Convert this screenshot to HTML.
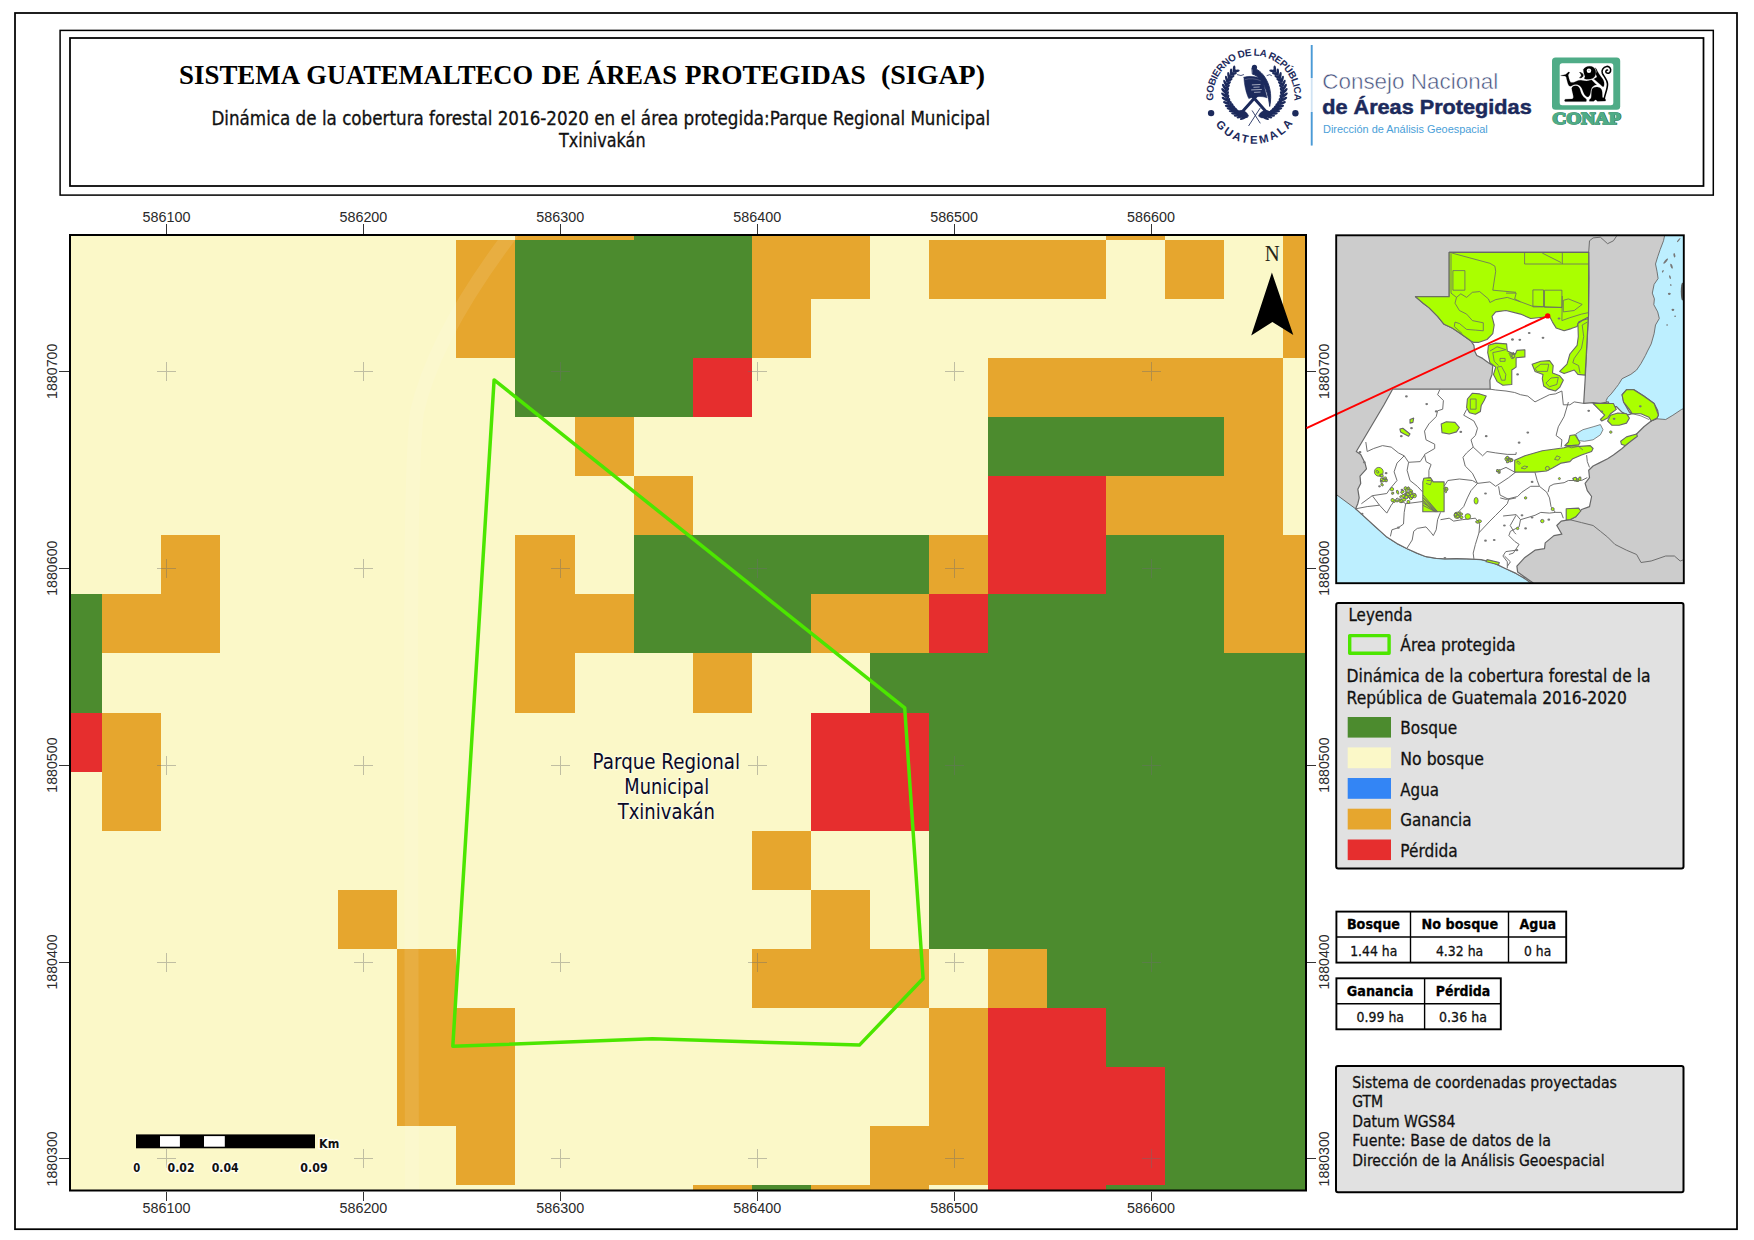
<!DOCTYPE html>
<html lang="es"><head><meta charset="utf-8"><title>SIGAP - Parque Regional Municipal Txinivakán</title>
<style>html,body{margin:0;padding:0;background:#fff}svg{display:block}</style></head>
<body>
<svg width="1754" height="1240" viewBox="0 0 1754 1240">
<rect x="0" y="0" width="1754" height="1240" fill="#fff"/>
<rect x="15" y="13" width="1722" height="1216.2" fill="none" stroke="#000" stroke-width="1.75"/>
<rect x="60.1" y="30.4" width="1653.2" height="164.7" fill="none" stroke="#000" stroke-width="1.5"/>
<rect x="70" y="38" width="1633.5" height="148" fill="none" stroke="#000" stroke-width="1.75"/>
<text y="83.5" font-family='"Liberation Serif","DejaVu Serif",serif' font-size="28" font-weight="bold" fill="#000"><tspan x="179" textLength="119.6" lengthAdjust="spacingAndGlyphs">SISTEMA</tspan> <tspan x="306.3" textLength="226.7" lengthAdjust="spacingAndGlyphs">GUATEMALTECO</tspan> <tspan x="541.8" textLength="38.4" lengthAdjust="spacingAndGlyphs">DE</tspan> <tspan x="587" textLength="90.0" lengthAdjust="spacingAndGlyphs">ÁREAS</tspan> <tspan x="684.7" textLength="181.0" lengthAdjust="spacingAndGlyphs">PROTEGIDAS</tspan> <tspan x="881" textLength="104.0" lengthAdjust="spacingAndGlyphs">(SIGAP)</tspan> </text>
<text x="211.4" y="124.6" font-family='"DejaVu Sans","Liberation Sans",sans-serif' font-size="18.67" fill="#111" text-anchor="start" font-weight="normal" stroke="#111" stroke-width="0.3" textLength="778.8" lengthAdjust="spacingAndGlyphs" >Dinámica de la cobertura forestal 2016-2020 en el área protegida:Parque Regional Municipal</text>
<text x="558.9" y="147" font-family='"DejaVu Sans","Liberation Sans",sans-serif' font-size="18.67" fill="#111" text-anchor="start" font-weight="normal" stroke="#111" stroke-width="0.3" textLength="86.7" lengthAdjust="spacingAndGlyphs" >Txinivakán</text>
<defs><clipPath id="mapclip"><rect x="70" y="235" width="1236" height="955.5"/></clipPath></defs>
<g clip-path="url(#mapclip)" shape-rendering="crispEdges">
<rect x="70" y="235" width="1236" height="956" fill="#fbf8c8"/>
<rect x="515.47" y="180.93" width="118.14" height="59.07" fill="#e6a62e"/>
<rect x="751.75" y="180.93" width="118.14" height="59.07" fill="#e6a62e"/>
<rect x="1106.17" y="180.93" width="59.07" height="59.07" fill="#e6a62e"/>
<rect x="1283.38" y="180.93" width="59.07" height="59.07" fill="#e6a62e"/>
<rect x="633.61" y="180.93" width="118.14" height="59.07" fill="#4c8b2e"/>
<rect x="456.40" y="240.00" width="59.07" height="59.07" fill="#e6a62e"/>
<rect x="751.75" y="240.00" width="118.14" height="59.07" fill="#e6a62e"/>
<rect x="928.96" y="240.00" width="177.21" height="59.07" fill="#e6a62e"/>
<rect x="1165.24" y="240.00" width="59.07" height="59.07" fill="#e6a62e"/>
<rect x="1283.38" y="240.00" width="59.07" height="59.07" fill="#e6a62e"/>
<rect x="515.47" y="240.00" width="236.28" height="59.07" fill="#4c8b2e"/>
<rect x="456.40" y="299.07" width="59.07" height="59.07" fill="#e6a62e"/>
<rect x="751.75" y="299.07" width="59.07" height="59.07" fill="#e6a62e"/>
<rect x="1283.38" y="299.07" width="59.07" height="59.07" fill="#e6a62e"/>
<rect x="515.47" y="299.07" width="236.28" height="59.07" fill="#4c8b2e"/>
<rect x="515.47" y="358.14" width="177.21" height="59.07" fill="#4c8b2e"/>
<rect x="692.68" y="358.14" width="59.07" height="59.07" fill="#e62e2e"/>
<rect x="988.03" y="358.14" width="295.35" height="59.07" fill="#e6a62e"/>
<rect x="574.54" y="417.21" width="59.07" height="59.07" fill="#e6a62e"/>
<rect x="1224.31" y="417.21" width="59.07" height="59.07" fill="#e6a62e"/>
<rect x="988.03" y="417.21" width="236.28" height="59.07" fill="#4c8b2e"/>
<rect x="633.61" y="476.28" width="59.07" height="59.07" fill="#e6a62e"/>
<rect x="1106.17" y="476.28" width="177.21" height="59.07" fill="#e6a62e"/>
<rect x="988.03" y="476.28" width="118.14" height="59.07" fill="#e62e2e"/>
<rect x="161.05" y="535.35" width="59.07" height="59.07" fill="#e6a62e"/>
<rect x="515.47" y="535.35" width="59.07" height="59.07" fill="#e6a62e"/>
<rect x="928.96" y="535.35" width="59.07" height="59.07" fill="#e6a62e"/>
<rect x="1224.31" y="535.35" width="118.14" height="59.07" fill="#e6a62e"/>
<rect x="633.61" y="535.35" width="295.35" height="59.07" fill="#4c8b2e"/>
<rect x="1106.17" y="535.35" width="118.14" height="59.07" fill="#4c8b2e"/>
<rect x="988.03" y="535.35" width="118.14" height="59.07" fill="#e62e2e"/>
<rect x="42.91" y="594.42" width="59.07" height="59.07" fill="#4c8b2e"/>
<rect x="633.61" y="594.42" width="177.21" height="59.07" fill="#4c8b2e"/>
<rect x="988.03" y="594.42" width="236.28" height="59.07" fill="#4c8b2e"/>
<rect x="101.98" y="594.42" width="118.14" height="59.07" fill="#e6a62e"/>
<rect x="515.47" y="594.42" width="118.14" height="59.07" fill="#e6a62e"/>
<rect x="810.82" y="594.42" width="118.14" height="59.07" fill="#e6a62e"/>
<rect x="1224.31" y="594.42" width="118.14" height="59.07" fill="#e6a62e"/>
<rect x="928.96" y="594.42" width="59.07" height="59.07" fill="#e62e2e"/>
<rect x="42.91" y="653.49" width="59.07" height="59.07" fill="#4c8b2e"/>
<rect x="869.89" y="653.49" width="472.56" height="59.07" fill="#4c8b2e"/>
<rect x="515.47" y="653.49" width="59.07" height="59.07" fill="#e6a62e"/>
<rect x="692.68" y="653.49" width="59.07" height="59.07" fill="#e6a62e"/>
<rect x="42.91" y="712.56" width="59.07" height="59.07" fill="#e62e2e"/>
<rect x="810.82" y="712.56" width="118.14" height="59.07" fill="#e62e2e"/>
<rect x="101.98" y="712.56" width="59.07" height="59.07" fill="#e6a62e"/>
<rect x="928.96" y="712.56" width="413.49" height="59.07" fill="#4c8b2e"/>
<rect x="101.98" y="771.63" width="59.07" height="59.07" fill="#e6a62e"/>
<rect x="810.82" y="771.63" width="118.14" height="59.07" fill="#e62e2e"/>
<rect x="928.96" y="771.63" width="413.49" height="59.07" fill="#4c8b2e"/>
<rect x="751.75" y="830.70" width="59.07" height="59.07" fill="#e6a62e"/>
<rect x="928.96" y="830.70" width="413.49" height="59.07" fill="#4c8b2e"/>
<rect x="338.26" y="889.77" width="59.07" height="59.07" fill="#e6a62e"/>
<rect x="810.82" y="889.77" width="59.07" height="59.07" fill="#e6a62e"/>
<rect x="928.96" y="889.77" width="413.49" height="59.07" fill="#4c8b2e"/>
<rect x="397.33" y="948.84" width="59.07" height="59.07" fill="#e6a62e"/>
<rect x="751.75" y="948.84" width="177.21" height="59.07" fill="#e6a62e"/>
<rect x="988.03" y="948.84" width="59.07" height="59.07" fill="#e6a62e"/>
<rect x="1047.10" y="948.84" width="295.35" height="59.07" fill="#4c8b2e"/>
<rect x="397.33" y="1007.91" width="118.14" height="59.07" fill="#e6a62e"/>
<rect x="928.96" y="1007.91" width="59.07" height="59.07" fill="#e6a62e"/>
<rect x="988.03" y="1007.91" width="118.14" height="59.07" fill="#e62e2e"/>
<rect x="1106.17" y="1007.91" width="236.28" height="59.07" fill="#4c8b2e"/>
<rect x="397.33" y="1066.98" width="118.14" height="59.07" fill="#e6a62e"/>
<rect x="928.96" y="1066.98" width="59.07" height="59.07" fill="#e6a62e"/>
<rect x="988.03" y="1066.98" width="177.21" height="59.07" fill="#e62e2e"/>
<rect x="1165.24" y="1066.98" width="177.21" height="59.07" fill="#4c8b2e"/>
<rect x="456.40" y="1126.05" width="59.07" height="59.07" fill="#e6a62e"/>
<rect x="869.89" y="1126.05" width="118.14" height="59.07" fill="#e6a62e"/>
<rect x="988.03" y="1126.05" width="177.21" height="59.07" fill="#e62e2e"/>
<rect x="1165.24" y="1126.05" width="177.21" height="59.07" fill="#4c8b2e"/>
<rect x="692.68" y="1185.12" width="59.07" height="59.07" fill="#e6a62e"/>
<rect x="810.82" y="1185.12" width="118.14" height="59.07" fill="#e6a62e"/>
<rect x="751.75" y="1185.12" width="59.07" height="59.07" fill="#4c8b2e"/>
<rect x="1106.17" y="1185.12" width="236.28" height="59.07" fill="#4c8b2e"/>
<rect x="988.03" y="1185.12" width="118.14" height="59.07" fill="#e62e2e"/>
</g>
<g clip-path="url(#mapclip)"><path d="M514,230 C472,285 431,350 417,412 C411,460 411,600 411,720 L412,1195" fill="none" stroke="#ffffff" stroke-opacity="0.095" stroke-width="14"/></g>
<g stroke="#6e6e6e" stroke-opacity="0.42" stroke-width="1" shape-rendering="crispEdges">
<path d="M157.0,371.3H176.0M166.5,361.8V380.8"/>
<path d="M157.0,568.2H176.0M166.5,558.7V577.7"/>
<path d="M157.0,765.1H176.0M166.5,755.6V774.6"/>
<path d="M157.0,962.0H176.0M166.5,952.5V971.5"/>
<path d="M157.0,1158.9H176.0M166.5,1149.4V1168.4"/>
<path d="M353.9,371.3H372.9M363.4,361.8V380.8"/>
<path d="M353.9,568.2H372.9M363.4,558.7V577.7"/>
<path d="M353.9,765.1H372.9M363.4,755.6V774.6"/>
<path d="M353.9,962.0H372.9M363.4,952.5V971.5"/>
<path d="M353.9,1158.9H372.9M363.4,1149.4V1168.4"/>
<path d="M550.8,371.3H569.8M560.3,361.8V380.8"/>
<path d="M550.8,568.2H569.8M560.3,558.7V577.7"/>
<path d="M550.8,765.1H569.8M560.3,755.6V774.6"/>
<path d="M550.8,962.0H569.8M560.3,952.5V971.5"/>
<path d="M550.8,1158.9H569.8M560.3,1149.4V1168.4"/>
<path d="M747.7,371.3H766.7M757.2,361.8V380.8"/>
<path d="M747.7,568.2H766.7M757.2,558.7V577.7"/>
<path d="M747.7,765.1H766.7M757.2,755.6V774.6"/>
<path d="M747.7,962.0H766.7M757.2,952.5V971.5"/>
<path d="M747.7,1158.9H766.7M757.2,1149.4V1168.4"/>
<path d="M944.6,371.3H963.6M954.1,361.8V380.8"/>
<path d="M944.6,568.2H963.6M954.1,558.7V577.7"/>
<path d="M944.6,765.1H963.6M954.1,755.6V774.6"/>
<path d="M944.6,962.0H963.6M954.1,952.5V971.5"/>
<path d="M944.6,1158.9H963.6M954.1,1149.4V1168.4"/>
<path d="M1141.5,371.3H1160.5M1151.0,361.8V380.8"/>
<path d="M1141.5,568.2H1160.5M1151.0,558.7V577.7"/>
<path d="M1141.5,765.1H1160.5M1151.0,755.6V774.6"/>
<path d="M1141.5,962.0H1160.5M1151.0,952.5V971.5"/>
<path d="M1141.5,1158.9H1160.5M1151.0,1149.4V1168.4"/>
</g>
<polygon points="494.1,379.9 904.7,707.9 923.1,978.5 859.4,1045.1 652.3,1038.8 452.8,1046.3" fill="none" stroke="#4ce600" stroke-width="3.5" stroke-linejoin="round"/>
<text x="592.6" y="768.5" font-family='"DejaVu Sans","Liberation Sans",sans-serif' font-size="21" fill="#0a0a28" text-anchor="start" font-weight="normal" textLength="147.5" lengthAdjust="spacingAndGlyphs" stroke="#fdfce6" stroke-width="2.6" stroke-linejoin="round" paint-order="stroke" stroke-opacity="0.9">Parque Regional</text>
<text x="624.3" y="793.6" font-family='"DejaVu Sans","Liberation Sans",sans-serif' font-size="21" fill="#0a0a28" text-anchor="start" font-weight="normal" textLength="84.8" lengthAdjust="spacingAndGlyphs" stroke="#fdfce6" stroke-width="2.6" stroke-linejoin="round" paint-order="stroke" stroke-opacity="0.9">Municipal</text>
<text x="617.7" y="818.7" font-family='"DejaVu Sans","Liberation Sans",sans-serif' font-size="21" fill="#0a0a28" text-anchor="start" font-weight="normal" textLength="97.3" lengthAdjust="spacingAndGlyphs" stroke="#fdfce6" stroke-width="2.6" stroke-linejoin="round" paint-order="stroke" stroke-opacity="0.9">Txinivakán</text>
<text x="1264.7" y="260.6" font-family='"Liberation Serif","DejaVu Serif",serif' font-size="23.4" fill="#262618" text-anchor="start" font-weight="normal" textLength="15" lengthAdjust="spacingAndGlyphs" >N</text>
<polygon points="1271.9,272.5 1293.3,335 1272.4,322 1251.2,335.4" fill="#000"/>
<rect x="136" y="1134.4" width="179" height="13.9" fill="#000"/>
<rect x="160" y="1136.1" width="19.9" height="10.6" fill="#fff"/>
<rect x="204" y="1136.1" width="20.8" height="10.6" fill="#fff"/>
<text x="136.8" y="1172" font-family='"DejaVu Sans","Liberation Sans",sans-serif' font-size="11.8" fill="#111" text-anchor="middle" font-weight="bold" textLength="7" lengthAdjust="spacingAndGlyphs" stroke="#fffef0" stroke-width="3.2" stroke-linejoin="round" paint-order="stroke">0</text>
<text x="181.1" y="1172" font-family='"DejaVu Sans","Liberation Sans",sans-serif' font-size="11.8" fill="#111" text-anchor="middle" font-weight="bold" textLength="27" lengthAdjust="spacingAndGlyphs" stroke="#fffef0" stroke-width="3.2" stroke-linejoin="round" paint-order="stroke">0.02</text>
<text x="225.2" y="1172" font-family='"DejaVu Sans","Liberation Sans",sans-serif' font-size="11.8" fill="#111" text-anchor="middle" font-weight="bold" textLength="27.1" lengthAdjust="spacingAndGlyphs" stroke="#fffef0" stroke-width="3.2" stroke-linejoin="round" paint-order="stroke">0.04</text>
<text x="314" y="1172" font-family='"DejaVu Sans","Liberation Sans",sans-serif' font-size="11.8" fill="#111" text-anchor="middle" font-weight="bold" textLength="27.3" lengthAdjust="spacingAndGlyphs" stroke="#fffef0" stroke-width="3.2" stroke-linejoin="round" paint-order="stroke">0.09</text>
<text x="319.1" y="1147.8" font-family='"DejaVu Sans","Liberation Sans",sans-serif' font-size="11.8" fill="#111" text-anchor="start" font-weight="bold" textLength="20.2" lengthAdjust="spacingAndGlyphs" stroke="#fffef0" stroke-width="3.2" stroke-linejoin="round" paint-order="stroke">Km</text>
<rect x="70" y="235" width="1236" height="955.5" fill="none" stroke="#000" stroke-width="2"/>
<g stroke="#333" stroke-width="1" shape-rendering="crispEdges">
<path d="M166.5,224.3V234M166.5,1191.5V1200.5"/>
<path d="M363.4,224.3V234M363.4,1191.5V1200.5"/>
<path d="M560.3,224.3V234M560.3,1191.5V1200.5"/>
<path d="M757.2,224.3V234M757.2,1191.5V1200.5"/>
<path d="M954.1,224.3V234M954.1,1191.5V1200.5"/>
<path d="M1151.0,224.3V234M1151.0,1191.5V1200.5"/>
<path d="M59,371.3H69M1307,371.3H1316.3"/>
<path d="M59,568.2H69M1307,568.2H1316.3"/>
<path d="M59,765.1H69M1307,765.1H1316.3"/>
<path d="M59,962.0H69M1307,962.0H1316.3"/>
<path d="M59,1158.9H69M1307,1158.9H1316.3"/>
</g>
<text x="166.5" y="221.7" font-family='"Liberation Sans","DejaVu Sans",sans-serif' font-size="14.35" fill="#2a2a2a" text-anchor="middle" font-weight="normal" >586100</text>
<text x="166.5" y="1213.4" font-family='"Liberation Sans","DejaVu Sans",sans-serif' font-size="14.35" fill="#2a2a2a" text-anchor="middle" font-weight="normal" >586100</text>
<text x="363.4" y="221.7" font-family='"Liberation Sans","DejaVu Sans",sans-serif' font-size="14.35" fill="#2a2a2a" text-anchor="middle" font-weight="normal" >586200</text>
<text x="363.4" y="1213.4" font-family='"Liberation Sans","DejaVu Sans",sans-serif' font-size="14.35" fill="#2a2a2a" text-anchor="middle" font-weight="normal" >586200</text>
<text x="560.3" y="221.7" font-family='"Liberation Sans","DejaVu Sans",sans-serif' font-size="14.35" fill="#2a2a2a" text-anchor="middle" font-weight="normal" >586300</text>
<text x="560.3" y="1213.4" font-family='"Liberation Sans","DejaVu Sans",sans-serif' font-size="14.35" fill="#2a2a2a" text-anchor="middle" font-weight="normal" >586300</text>
<text x="757.2" y="221.7" font-family='"Liberation Sans","DejaVu Sans",sans-serif' font-size="14.35" fill="#2a2a2a" text-anchor="middle" font-weight="normal" >586400</text>
<text x="757.2" y="1213.4" font-family='"Liberation Sans","DejaVu Sans",sans-serif' font-size="14.35" fill="#2a2a2a" text-anchor="middle" font-weight="normal" >586400</text>
<text x="954.1" y="221.7" font-family='"Liberation Sans","DejaVu Sans",sans-serif' font-size="14.35" fill="#2a2a2a" text-anchor="middle" font-weight="normal" >586500</text>
<text x="954.1" y="1213.4" font-family='"Liberation Sans","DejaVu Sans",sans-serif' font-size="14.35" fill="#2a2a2a" text-anchor="middle" font-weight="normal" >586500</text>
<text x="1151.0" y="221.7" font-family='"Liberation Sans","DejaVu Sans",sans-serif' font-size="14.35" fill="#2a2a2a" text-anchor="middle" font-weight="normal" >586600</text>
<text x="1151.0" y="1213.4" font-family='"Liberation Sans","DejaVu Sans",sans-serif' font-size="14.35" fill="#2a2a2a" text-anchor="middle" font-weight="normal" >586600</text>
<text transform="translate(57.3,371.3) rotate(-90)" font-family='"Liberation Sans","DejaVu Sans",sans-serif' font-size="14.2" fill="#2a2a2a" text-anchor="middle">1880700</text>
<text transform="translate(1329.3,371.3) rotate(-90)" font-family='"Liberation Sans","DejaVu Sans",sans-serif' font-size="14.2" fill="#2a2a2a" text-anchor="middle">1880700</text>
<text transform="translate(57.3,568.2) rotate(-90)" font-family='"Liberation Sans","DejaVu Sans",sans-serif' font-size="14.2" fill="#2a2a2a" text-anchor="middle">1880600</text>
<text transform="translate(1329.3,568.2) rotate(-90)" font-family='"Liberation Sans","DejaVu Sans",sans-serif' font-size="14.2" fill="#2a2a2a" text-anchor="middle">1880600</text>
<text transform="translate(57.3,765.1) rotate(-90)" font-family='"Liberation Sans","DejaVu Sans",sans-serif' font-size="14.2" fill="#2a2a2a" text-anchor="middle">1880500</text>
<text transform="translate(1329.3,765.1) rotate(-90)" font-family='"Liberation Sans","DejaVu Sans",sans-serif' font-size="14.2" fill="#2a2a2a" text-anchor="middle">1880500</text>
<text transform="translate(57.3,962.0) rotate(-90)" font-family='"Liberation Sans","DejaVu Sans",sans-serif' font-size="14.2" fill="#2a2a2a" text-anchor="middle">1880400</text>
<text transform="translate(1329.3,962.0) rotate(-90)" font-family='"Liberation Sans","DejaVu Sans",sans-serif' font-size="14.2" fill="#2a2a2a" text-anchor="middle">1880400</text>
<text transform="translate(57.3,1158.9) rotate(-90)" font-family='"Liberation Sans","DejaVu Sans",sans-serif' font-size="14.2" fill="#2a2a2a" text-anchor="middle">1880300</text>
<text transform="translate(1329.3,1158.9) rotate(-90)" font-family='"Liberation Sans","DejaVu Sans",sans-serif' font-size="14.2" fill="#2a2a2a" text-anchor="middle">1880300</text>
<rect x="1336.2" y="603" width="347.3" height="265.6" rx="2" fill="#e1e1e1" stroke="#000" stroke-width="2"/>
<text x="1348.5" y="620.5" font-family='"DejaVu Sans","Liberation Sans",sans-serif' font-size="17.1" fill="#111" text-anchor="start" font-weight="normal" stroke="#111" stroke-width="0.3" textLength="63.9" lengthAdjust="spacingAndGlyphs" >Leyenda</text>
<rect x="1349.7" y="635.6" width="39.4" height="17.6" fill="none" stroke="#4ce600" stroke-width="3.4" stroke-linejoin="round"/>
<text x="1400.3" y="651.4" font-family='"DejaVu Sans","Liberation Sans",sans-serif' font-size="17.1" fill="#111" text-anchor="start" font-weight="normal" stroke="#111" stroke-width="0.3" textLength="115.3" lengthAdjust="spacingAndGlyphs" >Área protegida</text>
<text x="1346.6" y="682" font-family='"DejaVu Sans","Liberation Sans",sans-serif' font-size="17.1" fill="#111" text-anchor="start" font-weight="normal" stroke="#111" stroke-width="0.3" textLength="304" lengthAdjust="spacingAndGlyphs" >Dinámica de la cobertura forestal de la</text>
<text x="1346.6" y="703.8" font-family='"DejaVu Sans","Liberation Sans",sans-serif' font-size="17.1" fill="#111" text-anchor="start" font-weight="normal" stroke="#111" stroke-width="0.3" textLength="280.2" lengthAdjust="spacingAndGlyphs" >República de Guatemala 2016-2020</text>
<rect x="1347.7" y="717" width="43.3" height="20.6" fill="#4c8b2e"/>
<text x="1400.3" y="733.9" font-family='"DejaVu Sans","Liberation Sans",sans-serif' font-size="17.1" fill="#111" text-anchor="start" font-weight="normal" stroke="#111" stroke-width="0.3" textLength="56.8" lengthAdjust="spacingAndGlyphs" >Bosque</text>
<rect x="1347.7" y="747.4" width="43.3" height="20.8" fill="#fbf8c8"/>
<text x="1400.3" y="765" font-family='"DejaVu Sans","Liberation Sans",sans-serif' font-size="17.1" fill="#111" text-anchor="start" font-weight="normal" stroke="#111" stroke-width="0.3" textLength="83.7" lengthAdjust="spacingAndGlyphs" >No bosque</text>
<rect x="1347.7" y="778" width="43.3" height="20.8" fill="#3385f5"/>
<text x="1400.3" y="795.9" font-family='"DejaVu Sans","Liberation Sans",sans-serif' font-size="17.1" fill="#111" text-anchor="start" font-weight="normal" stroke="#111" stroke-width="0.3" textLength="38.6" lengthAdjust="spacingAndGlyphs" >Agua</text>
<rect x="1347.7" y="808.7" width="43.3" height="20.8" fill="#e6a62e"/>
<text x="1400.3" y="826.4" font-family='"DejaVu Sans","Liberation Sans",sans-serif' font-size="17.1" fill="#111" text-anchor="start" font-weight="normal" stroke="#111" stroke-width="0.3" textLength="71.3" lengthAdjust="spacingAndGlyphs" >Ganancia</text>
<rect x="1347.7" y="839.5" width="43.3" height="20.6" fill="#e62e2e"/>
<text x="1400.3" y="856.8" font-family='"DejaVu Sans","Liberation Sans",sans-serif' font-size="17.1" fill="#111" text-anchor="start" font-weight="normal" stroke="#111" stroke-width="0.3" textLength="57.5" lengthAdjust="spacingAndGlyphs" >Pérdida</text>
<rect x="1336.4" y="911.6" width="229.8" height="51.0" fill="#fff" stroke="#000" stroke-width="1.9"/>
<path d="M1410.5,911.6V962.6" stroke="#000" stroke-width="1.4"/>
<path d="M1508.5,911.6V962.6" stroke="#000" stroke-width="1.4"/>
<path d="M1336.4,937H1566.2" stroke="#000" stroke-width="1.6"/>
<rect x="1336.4" y="978.3" width="164.4" height="51.0" fill="#fff" stroke="#000" stroke-width="1.9"/>
<path d="M1424.6,978.3V1029.3" stroke="#000" stroke-width="1.4"/>
<path d="M1336.4,1003.7H1500.8" stroke="#000" stroke-width="1.6"/>
<text x="1346.9" y="929.4" font-family='"DejaVu Sans","Liberation Sans",sans-serif' font-size="13.5" fill="#000" text-anchor="start" font-weight="bold" stroke="#000" stroke-width="0.3" textLength="53" lengthAdjust="spacingAndGlyphs" >Bosque</text>
<text x="1421.6" y="929.4" font-family='"DejaVu Sans","Liberation Sans",sans-serif' font-size="13.5" fill="#000" text-anchor="start" font-weight="bold" stroke="#000" stroke-width="0.3" textLength="76.5" lengthAdjust="spacingAndGlyphs" >No bosque</text>
<text x="1519.5" y="929.4" font-family='"DejaVu Sans","Liberation Sans",sans-serif' font-size="13.5" fill="#000" text-anchor="start" font-weight="bold" stroke="#000" stroke-width="0.3" textLength="36.5" lengthAdjust="spacingAndGlyphs" >Agua</text>
<text x="1350.2" y="955.5" font-family='"DejaVu Sans","Liberation Sans",sans-serif' font-size="13.5" fill="#111" text-anchor="start" font-weight="normal" stroke="#111" stroke-width="0.3" textLength="47.1" lengthAdjust="spacingAndGlyphs" >1.44 ha</text>
<text x="1435.9" y="955.5" font-family='"DejaVu Sans","Liberation Sans",sans-serif' font-size="13.5" fill="#111" text-anchor="start" font-weight="normal" stroke="#111" stroke-width="0.3" textLength="47.4" lengthAdjust="spacingAndGlyphs" >4.32 ha</text>
<text x="1524.1" y="955.5" font-family='"DejaVu Sans","Liberation Sans",sans-serif' font-size="13.5" fill="#111" text-anchor="start" font-weight="normal" stroke="#111" stroke-width="0.3" textLength="27.1" lengthAdjust="spacingAndGlyphs" >0 ha</text>
<text x="1346.8" y="996.2" font-family='"DejaVu Sans","Liberation Sans",sans-serif' font-size="13.5" fill="#000" text-anchor="start" font-weight="bold" stroke="#000" stroke-width="0.3" textLength="66.7" lengthAdjust="spacingAndGlyphs" >Ganancia</text>
<text x="1435.7" y="996.2" font-family='"DejaVu Sans","Liberation Sans",sans-serif' font-size="13.5" fill="#000" text-anchor="start" font-weight="bold" stroke="#000" stroke-width="0.3" textLength="54.6" lengthAdjust="spacingAndGlyphs" >Pérdida</text>
<text x="1356.6" y="1022.2" font-family='"DejaVu Sans","Liberation Sans",sans-serif' font-size="13.5" fill="#111" text-anchor="start" font-weight="normal" stroke="#111" stroke-width="0.3" textLength="47.4" lengthAdjust="spacingAndGlyphs" >0.99 ha</text>
<text x="1439.1" y="1022.2" font-family='"DejaVu Sans","Liberation Sans",sans-serif' font-size="13.5" fill="#111" text-anchor="start" font-weight="normal" stroke="#111" stroke-width="0.3" textLength="47.8" lengthAdjust="spacingAndGlyphs" >0.36 ha</text>
<rect x="1336" y="1066" width="347.5" height="126.3" rx="2" fill="#e1e1e1" stroke="#000" stroke-width="2"/>
<text x="1352.2" y="1087.9" font-family='"DejaVu Sans","Liberation Sans",sans-serif' font-size="15.05" fill="#111" text-anchor="start" font-weight="normal" stroke="#111" stroke-width="0.3" textLength="264.7" lengthAdjust="spacingAndGlyphs" >Sistema de coordenadas proyectadas</text>
<text x="1352.2" y="1107" font-family='"DejaVu Sans","Liberation Sans",sans-serif' font-size="15.05" fill="#111" text-anchor="start" font-weight="normal" stroke="#111" stroke-width="0.3" textLength="31" lengthAdjust="spacingAndGlyphs" >GTM</text>
<text x="1352.2" y="1126.5" font-family='"DejaVu Sans","Liberation Sans",sans-serif' font-size="15.05" fill="#111" text-anchor="start" font-weight="normal" stroke="#111" stroke-width="0.3" textLength="103.1" lengthAdjust="spacingAndGlyphs" >Datum WGS84</text>
<text x="1352.2" y="1145.8" font-family='"DejaVu Sans","Liberation Sans",sans-serif' font-size="15.05" fill="#111" text-anchor="start" font-weight="normal" stroke="#111" stroke-width="0.3" textLength="198.9" lengthAdjust="spacingAndGlyphs" >Fuente: Base de datos de la</text>
<text x="1352.2" y="1165.5" font-family='"DejaVu Sans","Liberation Sans",sans-serif' font-size="15.05" fill="#111" text-anchor="start" font-weight="normal" stroke="#111" stroke-width="0.3" textLength="252.4" lengthAdjust="spacingAndGlyphs" >Dirección de la Análisis Geoespacial</text>
<defs><clipPath id="insclip"><rect x="1336.2" y="235.3" width="347.6" height="347.9"/></clipPath></defs>
<g clip-path="url(#insclip)" stroke-linejoin="round">
<rect x="1336" y="235" width="348" height="349" fill="#cccccc"/>
<path d="M1335.3,493.8 L1355.6,508.8 L1362.1,514.6 L1372.3,524.0 L1386.8,537.1 L1397.0,543.6 L1407.1,548.7 L1417.3,553.4 L1426.0,556.7 L1436.2,558.3 L1444.9,558.9 L1456.5,558.6 L1466.6,558.9 L1481.2,559.6 L1489.9,561.8 L1495.7,563.9 L1505.8,568.7 L1516.0,573.4 L1523.4,577.7 L1532.9,582.8 L1533.6,585.0 L1335.3,585.0Z" fill="#bdefff" stroke="#686868" stroke-width="1"/>
<path d="M1664.9,234.3 L1663.5,240.8 L1660.2,249.5 L1657.7,256.8 L1655.5,264.0 L1657.0,271.3 L1658.1,278.5 L1654.1,284.4 L1652.3,293.1 L1654.4,298.9 L1653.8,304.7 L1657.7,311.9 L1659.3,318.5 L1655.5,325.0 L1654.1,333.7 L1651.2,343.9 L1647.5,351.1 L1645.4,355.5 L1641.0,363.5 L1636.6,370.0 L1630.8,374.4 L1622.1,378.7 L1618.5,384.5 L1616.3,387.4 L1611.2,393.9 L1607.6,397.6 L1606.2,400.5 L1608.3,404.8 L1612.0,407.9 L1616.3,406.5 L1622.1,412.3 L1629.4,415.2 L1651.2,421.0 L1657.0,418.8 L1665.7,419.5 L1672.9,415.2 L1681.6,409.4 L1686.0,407.9 L1686.0,234.3Z" fill="#bdefff" stroke="#686868" stroke-width="0.9"/>
<path d="M1449.2,252.4 L1588.7,252.4 L1589.0,278.5 L1588.5,314.8 L1586.6,351.1 L1585.1,380.2 L1583.7,403.4 L1593.1,402.7 L1600.4,403.4 L1608.3,401.9 L1610.5,407.7 L1616.3,406.5 L1622.1,412.3 L1627.2,415.2 L1632.3,413.7 L1629.4,412.1 L1623.6,401.9 L1622.1,394.7 L1626.5,389.6 L1633.7,389.6 L1643.9,396.1 L1654.1,403.4 L1657.7,410.6 L1658.4,415.0 L1657.0,418.1 L1651.2,421.0 L1643.9,426.8 L1636.6,434.0 L1629.4,442.0 L1622.1,448.5 L1613.4,455.1 L1607.6,458.7 L1598.9,463.1 L1593.1,466.0 L1588.7,470.3 L1589.5,477.6 L1585.1,483.4 L1587.3,490.6 L1591.6,496.5 L1589.5,506.6 L1581.5,509.5 L1575.7,516.8 L1569.9,519.7 L1561.2,521.1 L1556.8,525.5 L1561.9,534.2 L1553.9,535.6 L1545.2,542.9 L1544.5,548.7 L1535.0,550.2 L1524.9,557.4 L1516.9,566.1 L1517.6,571.9 L1527.8,579.2 L1532.9,582.8 L1533.6,585.0 L1523.4,577.7 L1516.0,573.4 L1505.8,568.7 L1495.7,563.9 L1489.9,561.8 L1481.2,559.6 L1466.6,558.9 L1456.5,558.6 L1444.9,558.9 L1436.2,558.3 L1426.0,556.7 L1417.3,553.4 L1407.1,548.7 L1397.0,543.6 L1386.8,537.1 L1372.3,524.0 L1362.1,514.6 L1355.6,508.8 L1357.8,503.7 L1359.2,497.9 L1357.8,489.2 L1360.7,483.4 L1360.0,476.1 L1366.5,468.9 L1365.0,463.1 L1360.7,454.4 L1356.3,451.5 L1383.9,405.0 L1392.6,389.2 L1490.2,389.2 L1489.9,380.2 L1492.0,374.4 L1492.8,365.6 L1488.4,362.7 L1482.6,358.4 L1476.8,355.5 L1474.6,351.1 L1473.9,345.3 L1471.0,341.0 L1460.8,333.7 L1452.1,327.9 L1444.1,324.3 L1437.6,316.3 L1428.9,307.6 L1423.1,303.2 L1415.5,296.7 L1449.2,296.7Z" fill="#ffffff" stroke="#686868" stroke-width="1.2"/>
<path d="M1575.7,434.0 L1582.9,429.7 L1593.1,426.8 L1600.4,424.6 L1603.0,429.7 L1600.4,434.8 L1593.1,439.8 L1584.4,441.3 L1578.6,440.6Z" fill="#bdefff" stroke="#686868" stroke-width="0.8"/>
<path d="M1490.2,389.2 L1495.7,390.0 L1506.0,391.0 L1506.0,391.0 L1514.7,392.5 L1520.5,394.7 L1527.8,396.1 L1535.0,401.9 L1540.8,399.0 L1549.5,394.7 L1555.4,393.9 L1561.9,391.0 L1563.3,404.8 L1569.9,404.8 L1574.2,401.9 L1583.7,403.4" fill="none" stroke="#686868" stroke-width="0.95"/>
<path d="M1439.8,389.6 L1437.6,394.7 L1443.4,400.5 L1442.7,409.2 L1437.6,410.8 L1436.2,416.6 L1428.9,423.9 L1424.5,431.1 L1426.0,439.8 L1434.7,444.2 L1434.7,448.5 L1424.5,454.4 L1426.0,461.6 L1431.1,464.5 L1428.9,470.3 L1428.9,478.3" fill="none" stroke="#686868" stroke-width="0.95"/>
<path d="M1466.6,409.4 L1463.7,415.2 L1473.9,421.0 L1477.5,428.2 L1475.4,435.5 L1471.0,439.8 L1473.2,447.1 L1466.6,452.9 L1463.0,457.3 L1465.2,466.0 L1472.4,473.2 L1477.5,483.4" fill="none" stroke="#686868" stroke-width="0.95"/>
<path d="M1473.2,447.1 L1482.6,455.8 L1487.0,451.5 L1495.7,452.9 L1507.3,454.4 L1516.0,454.4 L1516.2,452.2" fill="none" stroke="#686868" stroke-width="0.95"/>
<path d="M1365.8,442.0 L1367.2,451.5 L1373.7,448.5 L1382.5,445.6 L1391.2,447.1 L1398.4,452.9 L1404.2,455.8 L1408.6,462.3 L1420.2,461.6 L1424.5,455.1" fill="none" stroke="#686868" stroke-width="0.95"/>
<path d="M1404.2,455.8 L1397.0,463.1 L1394.1,471.8 L1397.0,480.5 L1389.7,489.2 L1386.8,493.5 L1372.3,495.7 L1361.4,503.7" fill="none" stroke="#686868" stroke-width="0.95"/>
<path d="M1408.6,462.3 L1407.1,470.3 L1410.0,480.5 L1417.3,486.3 L1422.8,492.1" fill="none" stroke="#686868" stroke-width="0.95"/>
<path d="M1372.3,495.7 L1379.5,505.2 L1386.8,513.1 L1391.2,505.2 L1397.0,497.9 L1405.7,503.7 L1404.2,512.4 L1403.5,524.0 L1398.4,527.7 L1391.9,529.8 L1390.4,536.4" fill="none" stroke="#686868" stroke-width="0.95"/>
<path d="M1355.6,508.8 L1367.2,506.6 L1379.5,505.2" fill="none" stroke="#686868" stroke-width="0.95"/>
<path d="M1422.8,501.5 L1405.7,503.7" fill="none" stroke="#686868" stroke-width="0.95"/>
<path d="M1444.1,486.3 L1447.8,480.5 L1459.4,479.0 L1472.4,480.5 L1477.5,483.4 L1489.9,481.9 L1495.7,486.3 L1500.0,483.4 L1508.7,477.6 L1516.0,471.8" fill="none" stroke="#686868" stroke-width="0.95"/>
<path d="M1477.5,483.4 L1471.0,490.6 L1467.4,497.9 L1463.7,506.6 L1457.9,512.4" fill="none" stroke="#686868" stroke-width="0.95"/>
<path d="M1440.5,512.4 L1437.6,519.7 L1436.2,529.8 L1433.3,535.6 L1431.1,532.7 L1426.0,526.9 L1417.3,528.4 L1413.7,531.3 L1412.2,540.0 L1407.1,548.0" fill="none" stroke="#686868" stroke-width="0.95"/>
<path d="M1440.5,519.7 L1449.2,518.2 L1453.6,521.1 L1462.3,519.7 L1475.4,518.2 L1479.7,524.0 L1479.0,532.7 L1475.4,544.4 L1473.2,553.1 L1473.9,558.9" fill="none" stroke="#686868" stroke-width="0.95"/>
<path d="M1479.0,532.7 L1489.9,521.1 L1495.7,515.3 L1507.3,503.7 L1508.7,499.4 L1516.0,497.9" fill="none" stroke="#686868" stroke-width="0.95"/>
<path d="M1498.6,486.3 L1500.0,495.0 L1508.7,499.4" fill="none" stroke="#686868" stroke-width="0.95"/>
<path d="M1516.0,515.3 L1510.2,525.5 L1514.5,532.7 L1516.0,534.2" fill="none" stroke="#686868" stroke-width="0.95"/>
<path d="M1516.0,550.2 L1505.8,551.6 L1502.9,556.0 L1507.3,561.8 L1507.3,568.3" fill="none" stroke="#686868" stroke-width="0.95"/>
<path d="M1568.4,402.1 L1564.1,416.6 L1558.3,426.8 L1556.1,435.5 L1561.9,439.8 L1561.2,447.1" fill="none" stroke="#686868" stroke-width="0.95"/>
<path d="M1535.0,472.5 L1537.2,480.5 L1539.4,486.3 L1546.6,492.1 L1549.5,497.9 L1551.0,506.6 L1555.4,512.4 L1561.2,512.4 L1563.3,518.2" fill="none" stroke="#686868" stroke-width="0.95"/>
<path d="M1539.4,486.3 L1530.7,486.3 L1522.0,492.1 L1517.6,496.5 L1506.0,499.4 L1500.2,497.9" fill="none" stroke="#686868" stroke-width="0.95"/>
<path d="M1548.1,492.1 L1549.5,486.3 L1553.9,484.1 L1564.1,482.7 L1568.4,480.5 L1581.5,480.5 L1587.3,477.6" fill="none" stroke="#686868" stroke-width="0.95"/>
<path d="M1586.6,455.1 L1587.3,461.6 L1589.5,467.4" fill="none" stroke="#686868" stroke-width="0.95"/>
<path d="M1503.1,516.0 L1516.2,514.6 L1520.5,519.7 L1535.0,515.3 L1540.8,512.4 L1549.5,513.1 L1555.4,512.4" fill="none" stroke="#686868" stroke-width="0.95"/>
<path d="M1520.5,519.7 L1519.1,526.9 L1510.4,531.3 L1508.9,535.6 L1514.7,541.4 L1519.1,544.4 L1513.3,553.1 L1508.9,554.5" fill="none" stroke="#686868" stroke-width="0.95"/>
<path d="M1504.5,556.0 L1510.4,561.8 L1507.5,566.1" fill="none" stroke="#686868" stroke-width="0.95"/>
<path d="M1496.0,471.8 L1506.0,467.4 L1514.7,472.1" fill="none" stroke="#686868" stroke-width="0.95"/>
<path d="M1588.7,252.4 L1589.5,240.8 L1593.1,237.9 L1600.4,237.2 L1607.6,243.7 L1613.4,240.8 L1616.3,236.5 L1617.0,234.3" fill="none" stroke="#686868" stroke-width="0.95"/>
<path d="M1569.9,519.7 L1581.5,522.6 L1593.1,525.5 L1600.4,531.3 L1607.6,537.1 L1614.9,544.4 L1626.5,550.2 L1636.6,554.5 L1641.0,562.5 L1651.2,561.0 L1665.7,556.0 L1674.4,556.0 L1680.2,561.0 L1686.0,558.9" fill="none" stroke="#686868" stroke-width="0.95"/>
<path d="M1449.2,252.4 L1588.7,252.4 L1588.5,317.0 L1582.9,319.9 L1578.6,322.1 L1577.1,326.5 L1571.3,328.6 L1564.1,330.8 L1556.1,327.9 L1552.5,322.1 L1549.5,316.3 L1545.2,317.0 L1530.7,318.5 L1520.5,314.1 L1506.0,310.5 L1495.7,311.9 L1492.0,316.3 L1494.2,325.0 L1492.8,333.7 L1487.0,339.5 L1478.3,342.4 L1473.9,342.4 L1471.0,341.0 L1460.8,333.7 L1452.1,327.9 L1444.1,324.3 L1437.6,316.3 L1428.9,307.6 L1423.1,303.2 L1415.5,296.7 L1449.2,296.7Z" fill="#aaff00" stroke="#686868" stroke-width="1.1"/>
<path d="M1588.2,318.5 L1582.2,320.6 L1577.9,323.5 L1578.3,336.6 L1577.1,345.3 L1569.9,354.0 L1567.0,364.2 L1559.7,371.4 L1564.1,373.6 L1574.2,370.0 L1577.9,374.4 L1585.1,375.1Z" fill="#aaff00" stroke="#686868" stroke-width="1.1"/>
<path d="M1532.1,364.2 L1540.8,361.3 L1549.5,360.6 L1553.2,365.6 L1552.5,372.9 L1559.7,375.8 L1563.3,380.2 L1559.7,387.4 L1555.4,391.0 L1548.1,388.9 L1543.7,386.0 L1542.3,378.7 L1543.0,374.4 L1535.0,371.4Z" fill="#aaff00" stroke="#686868" stroke-width="1.1"/>
<path d="M1488.4,345.3 L1495.7,343.1 L1506.6,343.9 L1507.3,351.1 L1512.4,353.3 L1515.3,354.3 L1516.9,350.4 L1524.9,349.7 L1524.9,356.9 L1516.1,357.7 L1516.1,367.1 L1511.8,370.0 L1511.8,384.5 L1502.9,385.2 L1497.1,381.6 L1493.5,374.4 L1495.7,367.1 L1489.9,362.7 L1487.7,352.6Z" fill="#aaff00" stroke="#686868" stroke-width="1.1"/>
<path d="M1467.4,399.0 L1472.4,393.2 L1479.7,393.9 L1486.2,396.1 L1484.1,400.5 L1481.2,405.6 L1480.4,411.4 L1475.4,414.3 L1469.5,412.8 L1466.6,407.7Z" fill="#aaff00" stroke="#686868" stroke-width="1.1"/>
<path d="M1441.2,423.9 L1446.3,421.7 L1455.0,422.4 L1459.4,427.5 L1456.5,431.9 L1449.2,434.0 L1442.0,432.6Z" fill="#aaff00" stroke="#686868" stroke-width="1.1"/>
<path d="M1399.9,429.0 L1402.8,428.2 L1410.0,434.0 L1408.6,436.2 L1404.2,434.0 L1400.6,431.9Z" fill="#aaff00" stroke="#686868" stroke-width="1.1"/>
<path d="M1410.0,419.5 L1413.7,418.1 L1412.9,422.4 L1410.0,423.1Z" fill="#aaff00" stroke="#686868" stroke-width="1.1"/>
<path d="M1422.8,481.9 L1423.8,478.3 L1430.4,477.6 L1433.3,481.9 L1444.1,481.9 L1444.1,511.7 L1422.8,511.7Z" fill="#aaff00" stroke="#686868" stroke-width="1.1"/>
<path d="M1487.0,559.6 L1499.3,562.5 L1498.6,564.7 L1486.2,561.8Z" fill="#aaff00" stroke="#686868" stroke-width="1.1"/>
<path d="M1514.7,460.2 L1524.9,455.8 L1542.3,450.7 L1564.1,447.8 L1571.3,445.6 L1580.0,446.4 L1590.2,445.6 L1593.1,448.5 L1591.6,451.5 L1581.5,455.1 L1572.8,458.7 L1569.9,461.6 L1561.2,463.1 L1552.5,468.1 L1546.6,471.0 L1535.0,472.1 L1514.7,472.1Z" fill="#aaff00" stroke="#686868" stroke-width="1.1"/>
<path d="M1569.9,435.5 L1575.0,434.8 L1580.0,442.7 L1578.6,444.9 L1571.3,445.6 L1564.8,445.6 L1568.4,442.0Z" fill="#aaff00" stroke="#686868" stroke-width="1.1"/>
<path d="M1593.1,403.5 L1613.4,403.5 L1616.3,409.4 L1610.5,413.7 L1607.6,418.1 L1601.8,421.0 L1600.4,419.5 L1604.7,415.2 L1598.9,409.4Z" fill="#aaff00" stroke="#686868" stroke-width="1.1"/>
<path d="M1607.6,421.0 L1610.5,415.2 L1617.8,413.0 L1626.5,413.7 L1629.4,418.1 L1626.5,423.1 L1619.2,425.3 L1612.0,425.3Z" fill="#aaff00" stroke="#686868" stroke-width="1.1"/>
<path d="M1622.1,394.8 L1626.5,389.8 L1633.7,389.8 L1643.9,396.3 L1654.1,403.5 L1658.4,415.0 L1657.0,418.1 L1651.2,421.0 L1649.0,417.3 L1641.0,413.7 L1632.3,413.7 L1629.4,409.4 L1623.6,402.1Z" fill="#aaff00" stroke="#686868" stroke-width="1.1"/>
<path d="M1620.7,441.3 L1626.5,436.9 L1636.6,434.0 L1637.4,436.2 L1630.8,441.3 L1625.0,445.6 L1621.4,444.2Z" fill="#aaff00" stroke="#686868" stroke-width="1.1"/>
<path d="M1566.2,508.8 L1578.6,508.1 L1580.8,511.0 L1575.7,516.8 L1569.9,519.7 L1566.2,519.7Z" fill="#aaff00" stroke="#686868" stroke-width="1.1"/>
<circle cx="1378.8" cy="471.8" r="4.4" fill="#aaff00" stroke="#686868" stroke-width="0.9"/>
<circle cx="1457.2" cy="515.3" r="3.2" fill="#aaff00" stroke="#686868" stroke-width="0.9"/>
<circle cx="1467.8" cy="516.5" r="2.8" fill="#aaff00" stroke="#686868" stroke-width="0.9"/>
<circle cx="1547.4" cy="468.4" r="2.0" fill="#aaff00" stroke="#686868" stroke-width="0.9"/>
<circle cx="1542.3" cy="521.1" r="1.7" fill="#aaff00" stroke="#686868" stroke-width="0.9"/>
<circle cx="1552.7" cy="509.1" r="1.5" fill="#aaff00" stroke="#686868" stroke-width="0.9"/>
<circle cx="1525.6" cy="497.9" r="1.2" fill="#aaff00" stroke="#686868" stroke-width="0.9"/>
<circle cx="1517.6" cy="528.4" r="1.2" fill="#aaff00" stroke="#686868" stroke-width="0.9"/>
<circle cx="1559.4" cy="478.6" r="1.0" fill="#aaff00" stroke="#686868" stroke-width="0.9"/>
<circle cx="1610.8" cy="432.1" r="1.2" fill="#aaff00" stroke="#686868" stroke-width="0.9"/>
<circle cx="1391.9" cy="489.2" r="1.7" fill="#aaff00" stroke="#686868" stroke-width="0.9"/>
<circle cx="1414.4" cy="495.7" r="2.0" fill="#aaff00" stroke="#686868" stroke-width="0.9"/>
<circle cx="1410.0" cy="496.5" r="1.5" fill="#aaff00" stroke="#686868" stroke-width="0.9"/>
<ellipse cx="1476.1" cy="500.8" rx="2" ry="3.3" fill="#aaff00" stroke="#686868" stroke-width="0.9"/>
<path d="M1452.1,253.1 L1489.9,263.3 L1494.9,266.2 L1495.7,271.3 L1492.8,290.2 L1516.0,292.3" fill="none" stroke="#686868" stroke-width="0.8"/>
<path d="M1452.9,270.6 L1464.9,270.6 L1464.9,290.2 L1452.9,290.2 L1452.9,270.6" fill="none" stroke="#686868" stroke-width="0.8"/>
<path d="M1451.0,253.1 L1451.0,293.1 L1456.5,297.4" fill="none" stroke="#686868" stroke-width="0.8"/>
<path d="M1456.5,297.4 L1460.8,293.8 L1466.6,297.4 L1472.4,292.3 L1479.7,291.6 L1488.4,298.9 L1489.9,302.5 L1495.7,299.6 L1507.3,297.4 L1516.0,300.3 L1520.5,301.8 L1532.1,306.1 L1561.9,307.6" fill="none" stroke="#686868" stroke-width="0.8"/>
<path d="M1456.5,297.4 L1455.0,303.2 L1459.4,310.5 L1466.6,314.1 L1472.4,320.6 L1483.3,322.8 L1483.3,330.8 L1475.4,330.1 L1466.6,329.4 L1459.4,323.5 L1455.0,322.1 L1454.3,326.5 L1462.3,333.7" fill="none" stroke="#686868" stroke-width="0.8"/>
<path d="M1524.6,252.7 L1524.6,264.0 L1588.7,264.0" fill="none" stroke="#686868" stroke-width="0.8"/>
<path d="M1562.3,252.7 L1562.3,264.0" fill="none" stroke="#686868" stroke-width="0.8"/>
<path d="M1542.3,253.1 L1561.2,262.6" fill="none" stroke="#686868" stroke-width="0.8"/>
<path d="M1532.9,289.9 L1543.5,289.9 L1543.5,306.9 L1532.9,306.9 L1532.9,289.9" fill="none" stroke="#686868" stroke-width="0.8"/>
<path d="M1544.5,290.2 L1561.9,290.2 L1561.9,307.3 L1544.5,307.3 L1544.5,290.2" fill="none" stroke="#686868" stroke-width="0.8"/>
<path d="M1563.3,300.3 L1568.4,298.9 L1582.2,304.4 L1574.2,310.5 L1563.3,311.9 L1563.3,300.3" fill="none" stroke="#686868" stroke-width="0.8"/>
<path d="M1562.3,296.0 L1561.9,320.6 L1569.9,317.7 L1581.5,314.1 L1588.2,312.7" fill="none" stroke="#686868" stroke-width="0.8"/>
<path d="M1506.0,293.1 L1516.2,293.1 L1514.7,298.9 L1520.5,301.8" fill="none" stroke="#686868" stroke-width="0.8"/>
<path d="M1587.3,322.1 L1582.2,325.0 L1583.7,336.6 L1581.5,348.2 L1574.2,358.4 L1572.8,362.7 L1578.6,365.6 L1580.0,372.9" fill="none" stroke="#686868" stroke-width="0.8"/>
<path d="M1535.0,368.5 L1540.8,364.2 L1548.8,364.2 L1547.4,371.4 L1537.2,371.4 L1535.0,368.5" fill="none" stroke="#686868" stroke-width="0.8"/>
<path d="M1545.9,383.1 L1551.0,378.0 L1558.3,377.3 L1556.8,384.5 L1549.5,386.7 L1545.9,383.1" fill="none" stroke="#686868" stroke-width="0.8"/>
<path d="M1489.9,351.1 L1497.1,346.8 L1505.8,349.7 L1500.0,351.1 L1492.8,352.6 L1494.2,361.3 L1498.6,365.6" fill="none" stroke="#686868" stroke-width="0.8"/>
<path d="M1497.1,367.1 L1501.5,366.4 L1505.8,374.4 L1505.1,380.2 L1501.5,380.2 L1497.1,367.1" fill="none" stroke="#686868" stroke-width="0.8"/>
<path d="M1500.0,358.4 L1505.1,358.4 L1505.1,361.3 L1500.0,361.3 L1500.0,358.4" fill="none" stroke="#686868" stroke-width="0.8"/>
<path d="M1470.3,399.0 L1476.1,399.0 L1476.1,409.2 L1470.3,409.2 L1470.3,399.0" fill="none" stroke="#686868" stroke-width="0.8"/>
<path d="M1423.1,497.9 L1437.6,511.7" fill="none" stroke="#686868" stroke-width="0.8"/>
<path d="M1423.1,501.5 L1434.7,511.7" fill="none" stroke="#686868" stroke-width="0.8"/>
<path d="M1426.0,483.4 L1430.4,484.8 L1431.8,480.5 L1426.7,480.5" fill="none" stroke="#686868" stroke-width="0.8"/>
<path d="M1517.6,460.9 L1520.5,463.1 L1519.1,464.5 L1516.9,462.3 L1517.6,460.9" fill="none" stroke="#686868" stroke-width="0.8"/>
<path d="M1554.6,459.4 L1556.8,455.8 L1560.4,457.3 L1558.3,460.2 L1554.6,459.4" fill="none" stroke="#686868" stroke-width="0.8"/>
<path d="M1521.2,468.1 L1524.1,466.0 L1527.8,466.7 L1524.9,468.9 L1521.2,468.1" fill="none" stroke="#686868" stroke-width="0.8"/>
<path d="M1564.8,445.6 L1571.3,447.8 L1578.6,446.4 L1582.9,450.0" fill="none" stroke="#686868" stroke-width="0.8"/>
<path d="M1632.3,413.7 L1641.0,415.9 L1649.0,419.5" fill="none" stroke="#686868" stroke-width="0.8"/>
<ellipse cx="1401.3" cy="436.2" rx="1.4" ry="1.1" fill="#777" />
<ellipse cx="1411.5" cy="428.2" rx="1.4" ry="1.1" fill="#777" />
<ellipse cx="1360.0" cy="452.2" rx="1.4" ry="1.1" fill="#777" />
<ellipse cx="1364.3" cy="462.3" rx="1.4" ry="1.1" fill="#777" />
<ellipse cx="1383.9" cy="480.5" rx="1.4" ry="1.1" fill="#777" />
<ellipse cx="1386.1" cy="473.2" rx="1.4" ry="1.1" fill="#777" />
<ellipse cx="1379.5" cy="486.3" rx="1.4" ry="1.1" fill="#777" />
<ellipse cx="1402.0" cy="489.9" rx="1.4" ry="1.1" fill="#777" />
<ellipse cx="1405.7" cy="493.5" rx="1.4" ry="1.1" fill="#777" />
<ellipse cx="1446.3" cy="489.2" rx="1.4" ry="1.1" fill="#777" />
<ellipse cx="1479.0" cy="521.1" rx="1.4" ry="1.1" fill="#777" />
<ellipse cx="1485.5" cy="493.5" rx="1.4" ry="1.1" fill="#777" />
<ellipse cx="1498.6" cy="471.0" rx="1.4" ry="1.1" fill="#777" />
<ellipse cx="1510.2" cy="460.2" rx="1.4" ry="1.1" fill="#777" />
<ellipse cx="1494.2" cy="540.0" rx="1.4" ry="1.1" fill="#777" />
<ellipse cx="1485.5" cy="540.7" rx="1.4" ry="1.1" fill="#777" />
<ellipse cx="1504.4" cy="525.5" rx="1.4" ry="1.1" fill="#777" />
<ellipse cx="1460.8" cy="431.9" rx="1.4" ry="1.1" fill="#777" />
<ellipse cx="1486.2" cy="436.2" rx="1.4" ry="1.1" fill="#777" />
<ellipse cx="1398.4" cy="527.7" rx="1.4" ry="1.1" fill="#777" />
<ellipse cx="1362.1" cy="513.9" rx="1.4" ry="1.1" fill="#777" />
<ellipse cx="1444.9" cy="558.1" rx="1.4" ry="1.1" fill="#777" />
<ellipse cx="1406.4" cy="396.4" rx="1.4" ry="1.1" fill="#777" />
<ellipse cx="1426.7" cy="404.1" rx="1.4" ry="1.1" fill="#777" />
<ellipse cx="1436.2" cy="411.4" rx="1.4" ry="1.1" fill="#777" />
<ellipse cx="1512.4" cy="339.5" rx="1.4" ry="1.1" fill="#777" />
<ellipse cx="1512.5" cy="339.5" rx="1.4" ry="1.1" fill="#777" />
<ellipse cx="1519.8" cy="339.8" rx="1.4" ry="1.1" fill="#777" />
<ellipse cx="1543.0" cy="337.8" rx="1.4" ry="1.1" fill="#777" />
<ellipse cx="1529.2" cy="333.0" rx="1.4" ry="1.1" fill="#777" />
<ellipse cx="1517.6" cy="374.4" rx="1.4" ry="1.1" fill="#777" />
<ellipse cx="1559.0" cy="318.5" rx="1.4" ry="1.1" fill="#777" />
<ellipse cx="1640.3" cy="406.3" rx="1.4" ry="1.1" fill="#777" />
<ellipse cx="1669.3" cy="293.8" rx="1.4" ry="1.1" fill="#777" />
<ellipse cx="1672.9" cy="309.8" rx="1.4" ry="1.1" fill="#777" />
<ellipse cx="1510.4" cy="460.2" rx="1.4" ry="1.1" fill="#777" />
<ellipse cx="1519.1" cy="442.7" rx="1.4" ry="1.1" fill="#777" />
<ellipse cx="1527.8" cy="432.6" rx="1.4" ry="1.1" fill="#777" />
<ellipse cx="1588.7" cy="410.8" rx="1.4" ry="1.1" fill="#777" />
<ellipse cx="1580.0" cy="477.6" rx="1.4" ry="1.1" fill="#777" />
<ellipse cx="1532.1" cy="481.9" rx="1.4" ry="1.1" fill="#777" />
<ellipse cx="1522.0" cy="515.3" rx="1.4" ry="1.1" fill="#777" />
<ellipse cx="1532.1" cy="517.5" rx="1.4" ry="1.1" fill="#777" />
<ellipse cx="1548.8" cy="519.7" rx="1.4" ry="1.1" fill="#777" />
<ellipse cx="1525.6" cy="528.4" rx="1.4" ry="1.1" fill="#777" />
<ellipse cx="1516.9" cy="550.2" rx="1.4" ry="1.1" fill="#777" />
<ellipse cx="1614.1" cy="418.8" rx="1.4" ry="1.1" fill="#777" />
<ellipse cx="1601.8" cy="411.5" rx="1.4" ry="1.1" fill="#777" />
<ellipse cx="1407.5" cy="496.7" rx="1.3" ry="1.3" transform="rotate(160 1407.5 496.7)" fill="#aaff00" stroke="#686868" stroke-width="0.9"/>
<ellipse cx="1402.4" cy="491.9" rx="1.9" ry="1.2" transform="rotate(141 1402.4 491.9)" fill="#aaff00" stroke="#686868" stroke-width="0.9"/>
<ellipse cx="1408.4" cy="501.9" rx="1.4" ry="1.5" transform="rotate(121 1408.4 501.9)" fill="#aaff00" stroke="#686868" stroke-width="0.9"/>
<ellipse cx="1400.8" cy="496.6" rx="1.2" ry="0.9" transform="rotate(133 1400.8 496.6)" fill="#aaff00" stroke="#686868" stroke-width="0.9"/>
<ellipse cx="1406.6" cy="493.8" rx="1.8" ry="0.9" transform="rotate(151 1406.6 493.8)" fill="#aaff00" stroke="#686868" stroke-width="0.9"/>
<ellipse cx="1413.8" cy="494.7" rx="1.8" ry="1.0" transform="rotate(152 1413.8 494.7)" fill="#aaff00" stroke="#686868" stroke-width="0.9"/>
<ellipse cx="1405.5" cy="488.4" rx="1.7" ry="1.5" transform="rotate(101 1405.5 488.4)" fill="#aaff00" stroke="#686868" stroke-width="0.9"/>
<ellipse cx="1406.4" cy="490.2" rx="2.0" ry="0.9" transform="rotate(93 1406.4 490.2)" fill="#aaff00" stroke="#686868" stroke-width="0.9"/>
<ellipse cx="1408.9" cy="494.3" rx="1.1" ry="1.6" transform="rotate(111 1408.9 494.3)" fill="#aaff00" stroke="#686868" stroke-width="0.9"/>
<ellipse cx="1408.5" cy="488.6" rx="1.4" ry="1.5" transform="rotate(146 1408.5 488.6)" fill="#aaff00" stroke="#686868" stroke-width="0.9"/>
<ellipse cx="1404.0" cy="496.3" rx="1.5" ry="1.5" transform="rotate(174 1404.0 496.3)" fill="#aaff00" stroke="#686868" stroke-width="0.9"/>
<ellipse cx="1408.0" cy="493.2" rx="1.2" ry="1.3" transform="rotate(178 1408.0 493.2)" fill="#aaff00" stroke="#686868" stroke-width="0.9"/>
<ellipse cx="1411.2" cy="497.9" rx="2.0" ry="1.5" transform="rotate(145 1411.2 497.9)" fill="#aaff00" stroke="#686868" stroke-width="0.9"/>
<ellipse cx="1411.8" cy="495.8" rx="1.6" ry="1.6" transform="rotate(68 1411.8 495.8)" fill="#aaff00" stroke="#686868" stroke-width="0.9"/>
<ellipse cx="1406.8" cy="494.4" rx="1.8" ry="1.6" transform="rotate(22 1406.8 494.4)" fill="#aaff00" stroke="#686868" stroke-width="0.9"/>
<ellipse cx="1406.3" cy="494.3" rx="1.9" ry="0.8" transform="rotate(109 1406.3 494.3)" fill="#aaff00" stroke="#686868" stroke-width="0.9"/>
<ellipse cx="1408.1" cy="488.4" rx="0.9" ry="1.3" transform="rotate(11 1408.1 488.4)" fill="#aaff00" stroke="#686868" stroke-width="0.9"/>
<ellipse cx="1403.3" cy="495.9" rx="1.5" ry="1.5" transform="rotate(71 1403.3 495.9)" fill="#aaff00" stroke="#686868" stroke-width="0.9"/>
<ellipse cx="1392.7" cy="493.2" rx="1.2" ry="0.9" transform="rotate(153 1392.7 493.2)" fill="#aaff00" stroke="#686868" stroke-width="0.9"/>
<ellipse cx="1397.6" cy="492.2" rx="2.0" ry="1.0" transform="rotate(67 1397.6 492.2)" fill="#aaff00" stroke="#686868" stroke-width="0.9"/>
<ellipse cx="1407.8" cy="494.2" rx="1.9" ry="1.1" transform="rotate(35 1407.8 494.2)" fill="#aaff00" stroke="#686868" stroke-width="0.9"/>
<ellipse cx="1410.2" cy="492.1" rx="1.4" ry="1.2" transform="rotate(164 1410.2 492.1)" fill="#aaff00" stroke="#686868" stroke-width="0.9"/>
<ellipse cx="1411.2" cy="490.7" rx="1.0" ry="1.6" transform="rotate(129 1411.2 490.7)" fill="#aaff00" stroke="#686868" stroke-width="0.9"/>
<ellipse cx="1406.4" cy="497.1" rx="1.7" ry="1.5" transform="rotate(111 1406.4 497.1)" fill="#aaff00" stroke="#686868" stroke-width="0.9"/>
<ellipse cx="1411.9" cy="493.1" rx="1.5" ry="0.8" transform="rotate(106 1411.9 493.1)" fill="#aaff00" stroke="#686868" stroke-width="0.9"/>
<ellipse cx="1410.6" cy="493.4" rx="1.3" ry="1.3" transform="rotate(34 1410.6 493.4)" fill="#aaff00" stroke="#686868" stroke-width="0.9"/>
<ellipse cx="1385.8" cy="479.6" rx="1.4" ry="1.3" transform="rotate(90 1385.8 479.6)" fill="#aaff00" stroke="#686868" stroke-width="0.9"/>
<ellipse cx="1380.9" cy="475.5" rx="1.4" ry="1.3" transform="rotate(173 1380.9 475.5)" fill="#aaff00" stroke="#686868" stroke-width="0.9"/>
<ellipse cx="1384.9" cy="478.1" rx="1.6" ry="1.0" transform="rotate(153 1384.9 478.1)" fill="#aaff00" stroke="#686868" stroke-width="0.9"/>
<ellipse cx="1381.4" cy="481.0" rx="1.2" ry="1.1" transform="rotate(152 1381.4 481.0)" fill="#aaff00" stroke="#686868" stroke-width="0.9"/>
<ellipse cx="1382.1" cy="484.6" rx="1.0" ry="1.5" transform="rotate(145 1382.1 484.6)" fill="#aaff00" stroke="#686868" stroke-width="0.9"/>
<ellipse cx="1381.9" cy="475.6" rx="1.5" ry="1.3" transform="rotate(68 1381.9 475.6)" fill="#aaff00" stroke="#686868" stroke-width="0.9"/>
<ellipse cx="1382.6" cy="480.1" rx="1.4" ry="1.4" transform="rotate(26 1382.6 480.1)" fill="#aaff00" stroke="#686868" stroke-width="0.9"/>
<ellipse cx="1377.5" cy="471.8" rx="1.6" ry="1.0" transform="rotate(43 1377.5 471.8)" fill="#aaff00" stroke="#686868" stroke-width="0.9"/>
<ellipse cx="1386.1" cy="480.7" rx="1.1" ry="1.3" transform="rotate(69 1386.1 480.7)" fill="#aaff00" stroke="#686868" stroke-width="0.9"/>
<ellipse cx="1382.7" cy="479.6" rx="1.5" ry="1.0" transform="rotate(147 1382.7 479.6)" fill="#aaff00" stroke="#686868" stroke-width="0.9"/>
<ellipse cx="1383.3" cy="480.5" rx="1.8" ry="1.3" transform="rotate(158 1383.3 480.5)" fill="#aaff00" stroke="#686868" stroke-width="0.9"/>
<ellipse cx="1381.7" cy="479.3" rx="1.2" ry="1.4" transform="rotate(69 1381.7 479.3)" fill="#aaff00" stroke="#686868" stroke-width="0.9"/>
<ellipse cx="1394.4" cy="501.1" rx="1.2" ry="1.3" transform="rotate(9 1394.4 501.1)" fill="#aaff00" stroke="#686868" stroke-width="0.9"/>
<ellipse cx="1399.9" cy="500.5" rx="0.9" ry="1.6" transform="rotate(159 1399.9 500.5)" fill="#aaff00" stroke="#686868" stroke-width="0.9"/>
<ellipse cx="1401.5" cy="500.7" rx="1.9" ry="1.5" transform="rotate(56 1401.5 500.7)" fill="#aaff00" stroke="#686868" stroke-width="0.9"/>
<ellipse cx="1401.6" cy="501.0" rx="1.7" ry="1.4" transform="rotate(73 1401.6 501.0)" fill="#aaff00" stroke="#686868" stroke-width="0.9"/>
<ellipse cx="1392.6" cy="500.2" rx="1.8" ry="1.5" transform="rotate(73 1392.6 500.2)" fill="#aaff00" stroke="#686868" stroke-width="0.9"/>
<ellipse cx="1400.0" cy="501.4" rx="0.9" ry="1.4" transform="rotate(131 1400.0 501.4)" fill="#aaff00" stroke="#686868" stroke-width="0.9"/>
<ellipse cx="1403.9" cy="499.7" rx="1.9" ry="1.3" transform="rotate(3 1403.9 499.7)" fill="#aaff00" stroke="#686868" stroke-width="0.9"/>
<ellipse cx="1397.0" cy="500.9" rx="1.5" ry="1.0" transform="rotate(5 1397.0 500.9)" fill="#aaff00" stroke="#686868" stroke-width="0.9"/>
<ellipse cx="1456.1" cy="514.4" rx="1.9" ry="1.3" transform="rotate(87 1456.1 514.4)" fill="#aaff00" stroke="#686868" stroke-width="0.9"/>
<ellipse cx="1461.4" cy="517.3" rx="1.5" ry="1.4" transform="rotate(15 1461.4 517.3)" fill="#aaff00" stroke="#686868" stroke-width="0.9"/>
<ellipse cx="1457.2" cy="515.4" rx="1.5" ry="1.5" transform="rotate(43 1457.2 515.4)" fill="#aaff00" stroke="#686868" stroke-width="0.9"/>
<ellipse cx="1458.0" cy="515.8" rx="1.9" ry="0.9" transform="rotate(1 1458.0 515.8)" fill="#aaff00" stroke="#686868" stroke-width="0.9"/>
<ellipse cx="1455.6" cy="514.7" rx="1.3" ry="1.4" transform="rotate(63 1455.6 514.7)" fill="#aaff00" stroke="#686868" stroke-width="0.9"/>
<ellipse cx="1457.7" cy="516.4" rx="1.4" ry="1.2" transform="rotate(0 1457.7 516.4)" fill="#aaff00" stroke="#686868" stroke-width="0.9"/>
<ellipse cx="1459.9" cy="512.6" rx="1.0" ry="0.8" transform="rotate(123 1459.9 512.6)" fill="#aaff00" stroke="#686868" stroke-width="0.9"/>
<ellipse cx="1461.5" cy="514.1" rx="1.0" ry="1.2" transform="rotate(80 1461.5 514.1)" fill="#aaff00" stroke="#686868" stroke-width="0.9"/>
<ellipse cx="1478.4" cy="521.4" rx="1.3" ry="1.1" transform="rotate(77 1478.4 521.4)" fill="#aaff00" stroke="#686868" stroke-width="0.9"/>
<ellipse cx="1477.9" cy="521.6" rx="1.3" ry="0.9" transform="rotate(142 1477.9 521.6)" fill="#aaff00" stroke="#686868" stroke-width="0.9"/>
<ellipse cx="1479.7" cy="521.2" rx="1.8" ry="1.3" transform="rotate(10 1479.7 521.2)" fill="#aaff00" stroke="#686868" stroke-width="0.9"/>
<ellipse cx="1477.4" cy="522.0" rx="1.8" ry="1.1" transform="rotate(11 1477.4 522.0)" fill="#aaff00" stroke="#686868" stroke-width="0.9"/>
<ellipse cx="1445.7" cy="488.4" rx="1.3" ry="1.2" transform="rotate(179 1445.7 488.4)" fill="#aaff00" stroke="#686868" stroke-width="0.9"/>
<ellipse cx="1445.5" cy="491.5" rx="1.4" ry="0.8" transform="rotate(55 1445.5 491.5)" fill="#aaff00" stroke="#686868" stroke-width="0.9"/>
<ellipse cx="1445.0" cy="488.8" rx="1.0" ry="1.1" transform="rotate(109 1445.0 488.8)" fill="#aaff00" stroke="#686868" stroke-width="0.9"/>
<ellipse cx="1446.5" cy="489.4" rx="1.3" ry="1.6" transform="rotate(143 1446.5 489.4)" fill="#aaff00" stroke="#686868" stroke-width="0.9"/>
<ellipse cx="1446.5" cy="488.4" rx="1.4" ry="0.9" transform="rotate(169 1446.5 488.4)" fill="#aaff00" stroke="#686868" stroke-width="0.9"/>
<ellipse cx="1513.3" cy="353.7" rx="1.3" ry="0.9" transform="rotate(81 1513.3 353.7)" fill="#aaff00" stroke="#686868" stroke-width="0.9"/>
<ellipse cx="1511.8" cy="355.2" rx="1.5" ry="0.8" transform="rotate(36 1511.8 355.2)" fill="#aaff00" stroke="#686868" stroke-width="0.9"/>
<ellipse cx="1512.5" cy="357.3" rx="1.5" ry="1.3" transform="rotate(168 1512.5 357.3)" fill="#aaff00" stroke="#686868" stroke-width="0.9"/>
<ellipse cx="1513.0" cy="354.7" rx="0.9" ry="1.5" transform="rotate(31 1513.0 354.7)" fill="#aaff00" stroke="#686868" stroke-width="0.9"/>
<ellipse cx="1513.0" cy="355.6" rx="1.4" ry="1.4" transform="rotate(72 1513.0 355.6)" fill="#aaff00" stroke="#686868" stroke-width="0.9"/>
<ellipse cx="1510.3" cy="353.9" rx="0.9" ry="1.4" transform="rotate(130 1510.3 353.9)" fill="#aaff00" stroke="#686868" stroke-width="0.9"/>
<ellipse cx="1511.4" cy="355.2" rx="1.5" ry="0.9" transform="rotate(141 1511.4 355.2)" fill="#aaff00" stroke="#686868" stroke-width="0.9"/>
<ellipse cx="1513.4" cy="356.1" rx="1.5" ry="1.5" transform="rotate(61 1513.4 356.1)" fill="#aaff00" stroke="#686868" stroke-width="0.9"/>
<ellipse cx="1579.7" cy="479.0" rx="1.4" ry="1.4" transform="rotate(100 1579.7 479.0)" fill="#aaff00" stroke="#686868" stroke-width="0.9"/>
<ellipse cx="1577.1" cy="480.2" rx="1.9" ry="1.2" transform="rotate(21 1577.1 480.2)" fill="#aaff00" stroke="#686868" stroke-width="0.9"/>
<ellipse cx="1576.2" cy="479.5" rx="1.9" ry="1.5" transform="rotate(41 1576.2 479.5)" fill="#aaff00" stroke="#686868" stroke-width="0.9"/>
<ellipse cx="1575.1" cy="479.6" rx="1.5" ry="1.5" transform="rotate(175 1575.1 479.6)" fill="#aaff00" stroke="#686868" stroke-width="0.9"/>
<ellipse cx="1574.5" cy="479.2" rx="1.9" ry="0.9" transform="rotate(24 1574.5 479.2)" fill="#aaff00" stroke="#686868" stroke-width="0.9"/>
<ellipse cx="1575.0" cy="479.0" rx="1.7" ry="1.6" transform="rotate(150 1575.0 479.0)" fill="#aaff00" stroke="#686868" stroke-width="0.9"/>
<ellipse cx="1508.1" cy="458.9" rx="1.2" ry="1.0" transform="rotate(149 1508.1 458.9)" fill="#aaff00" stroke="#686868" stroke-width="0.9"/>
<ellipse cx="1506.2" cy="459.2" rx="1.8" ry="1.2" transform="rotate(75 1506.2 459.2)" fill="#aaff00" stroke="#686868" stroke-width="0.9"/>
<ellipse cx="1507.4" cy="457.9" rx="1.6" ry="1.3" transform="rotate(68 1507.4 457.9)" fill="#aaff00" stroke="#686868" stroke-width="0.9"/>
<ellipse cx="1508.8" cy="459.0" rx="1.2" ry="1.4" transform="rotate(51 1508.8 459.0)" fill="#aaff00" stroke="#686868" stroke-width="0.9"/>
<ellipse cx="1508.6" cy="460.2" rx="1.3" ry="1.4" transform="rotate(36 1508.6 460.2)" fill="#aaff00" stroke="#686868" stroke-width="0.9"/>
<ellipse cx="1508.0" cy="461.5" rx="1.7" ry="1.0" transform="rotate(148 1508.0 461.5)" fill="#aaff00" stroke="#686868" stroke-width="0.9"/>
<ellipse cx="1510.5" cy="459.5" rx="1.5" ry="1.2" transform="rotate(18 1510.5 459.5)" fill="#aaff00" stroke="#686868" stroke-width="0.9"/>
<ellipse cx="1510.1" cy="460.2" rx="1.7" ry="1.6" transform="rotate(119 1510.1 460.2)" fill="#aaff00" stroke="#686868" stroke-width="0.9"/>
<ellipse cx="1511.4" cy="459.9" rx="1.6" ry="1.4" transform="rotate(17 1511.4 459.9)" fill="#aaff00" stroke="#686868" stroke-width="0.9"/>
<ellipse cx="1511.5" cy="460.4" rx="1.2" ry="1.0" transform="rotate(66 1511.5 460.4)" fill="#aaff00" stroke="#686868" stroke-width="0.9"/>
<ellipse cx="1499.2" cy="471.8" rx="1.6" ry="0.8" transform="rotate(65 1499.2 471.8)" fill="#aaff00" stroke="#686868" stroke-width="0.9"/>
<ellipse cx="1498.7" cy="471.2" rx="1.1" ry="0.9" transform="rotate(21 1498.7 471.2)" fill="#aaff00" stroke="#686868" stroke-width="0.9"/>
<ellipse cx="1499.0" cy="471.4" rx="1.9" ry="0.8" transform="rotate(115 1499.0 471.4)" fill="#aaff00" stroke="#686868" stroke-width="0.9"/>
<ellipse cx="1497.6" cy="470.5" rx="0.9" ry="1.1" transform="rotate(111 1497.6 470.5)" fill="#aaff00" stroke="#686868" stroke-width="0.9"/>
<path d="M1423.1,495.0 L1437.6,511.7" fill="none" stroke="#686868" stroke-width="0.9"/>
<path d="M1423.1,497.6 L1437.0,511.7" fill="none" stroke="#686868" stroke-width="0.9"/>
<path d="M1423.1,500.2 L1436.4,511.7" fill="none" stroke="#686868" stroke-width="0.9"/>
<path d="M1423.1,502.8 L1435.9,511.7" fill="none" stroke="#686868" stroke-width="0.9"/>
<path d="M1423.1,505.4 L1435.3,511.7" fill="none" stroke="#686868" stroke-width="0.9"/>
<ellipse cx="1665.7" cy="261.1" rx="3.3" ry="1.0" transform="rotate(-50 1665.7 261.1)" fill="#777"/>
<ellipse cx="1671.5" cy="266.2" rx="2.6" ry="1.0" transform="rotate(70 1671.5 266.2)" fill="#777"/>
<ellipse cx="1674.4" cy="255.3" rx="2.2" ry="0.9" transform="rotate(80 1674.4 255.3)" fill="#777"/>
<ellipse cx="1670.0" cy="277.1" rx="2.0" ry="0.8" transform="rotate(75 1670.0 277.1)" fill="#777"/>
<ellipse cx="1662.8" cy="271.3" rx="1.4" ry="0.7" transform="rotate(-60 1662.8 271.3)" fill="#777"/>
<ellipse cx="1669.3" cy="293.8" rx="1.1" ry="0.7" transform="rotate(0 1669.3 293.8)" fill="#777"/>
<ellipse cx="1672.9" cy="309.8" rx="1.0" ry="0.7" transform="rotate(0 1672.9 309.8)" fill="#777"/>
<ellipse cx="1675.1" cy="316.3" rx="0.9" ry="0.7" transform="rotate(0 1675.1 316.3)" fill="#777"/>
<ellipse cx="1667.1" cy="325.0" rx="0.9" ry="0.7" transform="rotate(0 1667.1 325.0)" fill="#777"/>
<ellipse cx="1670.8" cy="285.1" rx="1.0" ry="0.7" transform="rotate(70 1670.8 285.1)" fill="#777"/>
<ellipse cx="1678.7" cy="240.1" rx="2.6" ry="0.7" transform="rotate(-50 1678.7 240.1)" fill="#777"/>
<ellipse cx="1682.4" cy="291.6" rx="1.6" ry="9" fill="#555"/>
</g>
<path d="M1306.5,428.2 L1547.7,315.9" stroke="#ff0000" stroke-width="2" fill="none"/>
<circle cx="1547.7" cy="315.9" r="2.7" fill="#ff0000"/>
<rect x="1336.2" y="235.3" width="347.6" height="347.9" fill="none" stroke="#000" stroke-width="1.9"/>
<defs><path id="arcTop" d="M1213.42,100.44 A40.6,40.6 0 1 1 1294.18,100.44"/>
<path id="arcBot" d="M1215.54,124.51 A47.6,47.6 0 0 0 1292.79,123.50"/></defs>
<text font-family='"Liberation Sans","DejaVu Sans",sans-serif' font-size="9.9" font-weight="bold" fill="#1c2a5c" letter-spacing="0"><textPath href="#arcTop" startOffset="0" textLength="136.1" lengthAdjust="spacing">GOBIERNO DE LA REPÚBLICA</textPath></text>
<text font-family='"Liberation Sans","DejaVu Sans",sans-serif' font-size="11.4" font-weight="bold" fill="#1c2a5c"><textPath href="#arcBot" startOffset="0" textLength="90.1" lengthAdjust="spacing">GUATEMALA</textPath></text>
<circle cx="1211.1" cy="113.1" r="3.2" fill="#1c2a5c"/><circle cx="1295.4" cy="113.3" r="3.2" fill="#1c2a5c"/>
<g transform="translate(1200,42) scale(0.08711)" fill="#1c2a5c" stroke="#1c2a5c" stroke-linecap="round" stroke-linejoin="round">
<ellipse cx="496" cy="873" rx="40" ry="15" transform="rotate(-205 496 873)" stroke="none"/>
<ellipse cx="504" cy="839" rx="40" ry="15" transform="rotate(-129 504 839)" stroke="none"/>
<ellipse cx="459" cy="859" rx="40" ry="15" transform="rotate(-197 459 859)" stroke="none"/>
<ellipse cx="471" cy="827" rx="40" ry="15" transform="rotate(-121 471 827)" stroke="none"/>
<ellipse cx="427" cy="841" rx="40" ry="15" transform="rotate(-190 427 841)" stroke="none"/>
<ellipse cx="443" cy="811" rx="40" ry="15" transform="rotate(-114 443 811)" stroke="none"/>
<ellipse cx="397" cy="819" rx="40" ry="15" transform="rotate(-183 397 819)" stroke="none"/>
<ellipse cx="417" cy="791" rx="40" ry="15" transform="rotate(-107 417 791)" stroke="none"/>
<ellipse cx="370" cy="795" rx="40" ry="15" transform="rotate(-176 370 795)" stroke="none"/>
<ellipse cx="393" cy="769" rx="40" ry="15" transform="rotate(-100 393 769)" stroke="none"/>
<ellipse cx="346" cy="767" rx="40" ry="15" transform="rotate(-170 346 767)" stroke="none"/>
<ellipse cx="372" cy="744" rx="40" ry="15" transform="rotate(-94 372 744)" stroke="none"/>
<ellipse cx="324" cy="738" rx="40" ry="15" transform="rotate(-166 324 738)" stroke="none"/>
<ellipse cx="351" cy="717" rx="40" ry="15" transform="rotate(-90 351 717)" stroke="none"/>
<ellipse cx="302" cy="700" rx="40" ry="15" transform="rotate(-158 302 700)" stroke="none"/>
<ellipse cx="331" cy="682" rx="40" ry="15" transform="rotate(-82 331 682)" stroke="none"/>
<ellipse cx="284" cy="655" rx="40" ry="15" transform="rotate(-148 284 655)" stroke="none"/>
<ellipse cx="317" cy="642" rx="40" ry="15" transform="rotate(-72 317 642)" stroke="none"/>
<ellipse cx="275" cy="608" rx="40" ry="15" transform="rotate(-139 275 608)" stroke="none"/>
<ellipse cx="309" cy="602" rx="40" ry="15" transform="rotate(-63 309 602)" stroke="none"/>
<ellipse cx="273" cy="562" rx="40" ry="15" transform="rotate(-130 273 562)" stroke="none"/>
<ellipse cx="307" cy="560" rx="40" ry="15" transform="rotate(-54 307 560)" stroke="none"/>
<ellipse cx="278" cy="516" rx="40" ry="15" transform="rotate(-122 278 516)" stroke="none"/>
<ellipse cx="312" cy="519" rx="40" ry="15" transform="rotate(-46 312 519)" stroke="none"/>
<ellipse cx="289" cy="470" rx="40" ry="15" transform="rotate(-114 289 470)" stroke="none"/>
<ellipse cx="322" cy="479" rx="40" ry="15" transform="rotate(-38 322 479)" stroke="none"/>
<ellipse cx="306" cy="426" rx="40" ry="15" transform="rotate(-106 306 426)" stroke="none"/>
<ellipse cx="338" cy="439" rx="40" ry="15" transform="rotate(-30 338 439)" stroke="none"/>
<ellipse cx="329" cy="385" rx="40" ry="15" transform="rotate(-99 329 385)" stroke="none"/>
<ellipse cx="359" cy="401" rx="40" ry="15" transform="rotate(-23 359 401)" stroke="none"/>
<ellipse cx="358" cy="345" rx="40" ry="15" transform="rotate(-92 358 345)" stroke="none"/>
<ellipse cx="385" cy="365" rx="40" ry="15" transform="rotate(-16 385 365)" stroke="none"/>
<ellipse cx="391" cy="309" rx="40" ry="15" transform="rotate(-85 391 309)" stroke="none"/>
<ellipse cx="416" cy="332" rx="40" ry="15" transform="rotate(-9 416 332)" stroke="none"/>
<ellipse cx="754" cy="873" rx="40" ry="15" transform="rotate(385 754 873)" stroke="none"/>
<ellipse cx="746" cy="839" rx="40" ry="15" transform="rotate(309 746 839)" stroke="none"/>
<ellipse cx="791" cy="859" rx="40" ry="15" transform="rotate(377 791 859)" stroke="none"/>
<ellipse cx="779" cy="827" rx="40" ry="15" transform="rotate(301 779 827)" stroke="none"/>
<ellipse cx="823" cy="841" rx="40" ry="15" transform="rotate(370 823 841)" stroke="none"/>
<ellipse cx="807" cy="811" rx="40" ry="15" transform="rotate(294 807 811)" stroke="none"/>
<ellipse cx="853" cy="819" rx="40" ry="15" transform="rotate(363 853 819)" stroke="none"/>
<ellipse cx="833" cy="791" rx="40" ry="15" transform="rotate(287 833 791)" stroke="none"/>
<ellipse cx="880" cy="795" rx="40" ry="15" transform="rotate(356 880 795)" stroke="none"/>
<ellipse cx="857" cy="769" rx="40" ry="15" transform="rotate(280 857 769)" stroke="none"/>
<ellipse cx="904" cy="767" rx="40" ry="15" transform="rotate(350 904 767)" stroke="none"/>
<ellipse cx="878" cy="744" rx="40" ry="15" transform="rotate(274 878 744)" stroke="none"/>
<ellipse cx="926" cy="738" rx="40" ry="15" transform="rotate(346 926 738)" stroke="none"/>
<ellipse cx="899" cy="717" rx="40" ry="15" transform="rotate(270 899 717)" stroke="none"/>
<ellipse cx="948" cy="700" rx="40" ry="15" transform="rotate(338 948 700)" stroke="none"/>
<ellipse cx="919" cy="682" rx="40" ry="15" transform="rotate(262 919 682)" stroke="none"/>
<ellipse cx="966" cy="655" rx="40" ry="15" transform="rotate(328 966 655)" stroke="none"/>
<ellipse cx="933" cy="642" rx="40" ry="15" transform="rotate(252 933 642)" stroke="none"/>
<ellipse cx="975" cy="608" rx="40" ry="15" transform="rotate(319 975 608)" stroke="none"/>
<ellipse cx="941" cy="602" rx="40" ry="15" transform="rotate(243 941 602)" stroke="none"/>
<ellipse cx="977" cy="562" rx="40" ry="15" transform="rotate(310 977 562)" stroke="none"/>
<ellipse cx="943" cy="560" rx="40" ry="15" transform="rotate(234 943 560)" stroke="none"/>
<ellipse cx="972" cy="516" rx="40" ry="15" transform="rotate(302 972 516)" stroke="none"/>
<ellipse cx="938" cy="519" rx="40" ry="15" transform="rotate(226 938 519)" stroke="none"/>
<ellipse cx="961" cy="470" rx="40" ry="15" transform="rotate(294 961 470)" stroke="none"/>
<ellipse cx="928" cy="479" rx="40" ry="15" transform="rotate(218 928 479)" stroke="none"/>
<ellipse cx="944" cy="426" rx="40" ry="15" transform="rotate(286 944 426)" stroke="none"/>
<ellipse cx="912" cy="439" rx="40" ry="15" transform="rotate(210 912 439)" stroke="none"/>
<ellipse cx="921" cy="385" rx="40" ry="15" transform="rotate(279 921 385)" stroke="none"/>
<ellipse cx="891" cy="401" rx="40" ry="15" transform="rotate(203 891 401)" stroke="none"/>
<ellipse cx="892" cy="345" rx="40" ry="15" transform="rotate(272 892 345)" stroke="none"/>
<ellipse cx="865" cy="365" rx="40" ry="15" transform="rotate(196 865 365)" stroke="none"/>
<ellipse cx="859" cy="309" rx="40" ry="15" transform="rotate(265 859 309)" stroke="none"/>
<ellipse cx="834" cy="332" rx="40" ry="15" transform="rotate(189 834 332)" stroke="none"/>
<path d="M540,865 C450,850 390,800 340,730 C250,600 290,430 405,320" fill="none" stroke-width="12"/>
<path d="M710,865 C800,850 860,800 910,730 C1000,600 960,430 845,320" fill="none" stroke-width="12"/>
<path d="M455,835 L700,560 M790,835 L545,560" fill="none" stroke-width="34"/>
<path d="M560,960 L690,760 M690,930 L600,790" fill="none" stroke-width="10"/>
<path d="M505,405 C560,385 650,395 715,425 L770,640 C700,615 620,625 560,650 C530,590 505,480 505,405Z" stroke-width="6"/>
<g stroke="#fff" stroke-width="9" stroke-opacity="0.75" fill="none"><path d="M600,492 L690,488"/><path d="M618,520 L680,517"/><path d="M592,550 L705,545"/><path d="M625,578 L690,575"/></g>
<path d="M520,430 C570,415 640,420 700,445" fill="none" stroke="#fff" stroke-opacity="0.35" stroke-width="7"/>
<circle cx="625" cy="292" r="30" stroke="none"/>
<path d="M600,300 C640,300 690,330 735,390 C800,480 830,600 800,740 C790,640 760,520 700,440 C670,400 640,380 605,370 Z" stroke-width="10"/>
<path d="M430,375 L470,385 L500,375 M770,385 L800,375 L820,385" fill="none" stroke-width="9"/>
<path d="M430,800 C480,760 540,800 560,850 C520,890 460,880 430,800Z M800,800 C750,760 690,800 670,850 C710,890 770,880 800,800Z" stroke-width="4"/>
</g>
<path d="M1311.7,45 V145.5" stroke="#cfe3f4" stroke-width="1.8"/>
<path d="M1311.7,45 V78 M1311.7,112 V145.5" stroke="#4a9ad6" stroke-width="1.8"/>
<text x="1322.2" y="88.6" font-family='"Liberation Sans","DejaVu Sans",sans-serif' font-size="21.6" fill="#46527e" textLength="176" lengthAdjust="spacingAndGlyphs" stroke="#fff" stroke-width="0.5">Consejo Nacional</text>
<text x="1322.2" y="113.7" font-family='"Liberation Sans","DejaVu Sans",sans-serif' font-size="20.6" font-weight="bold" fill="#1c2a5c" textLength="209.5" lengthAdjust="spacingAndGlyphs" stroke="#1c2a5c" stroke-width="0.5">de Áreas Protegidas</text>
<text x="1323" y="132.8" font-family='"Liberation Sans","DejaVu Sans",sans-serif' font-size="10.2" fill="#4aa0d8" textLength="164.8" lengthAdjust="spacingAndGlyphs">Dirección de Análisis Geoespacial</text>
<rect x="1552" y="57.6" width="68.2" height="52.1" rx="3.5" fill="#4fac87"/>
<rect x="1559.7" y="63.2" width="53.6" height="42" rx="2.5" fill="#fff"/>
<text x="1552.6" y="124.1" font-family='"Liberation Serif","DejaVu Serif",serif' font-size="16.6" font-weight="bold" fill="#2c5e4a" textLength="68.4" lengthAdjust="spacingAndGlyphs" stroke="#2c5e4a" stroke-width="1.4">CONAP</text>
<text x="1552.1" y="123.6" font-family='"Liberation Serif","DejaVu Serif",serif' font-size="16.6" font-weight="bold" fill="#4fac87" textLength="68.4" lengthAdjust="spacingAndGlyphs" stroke="#4fac87" stroke-width="1.3">CONAP</text>
<g transform="translate(1558,62) scale(0.03549)" fill="#000" stroke="#000" stroke-width="6" stroke-linejoin="round" stroke-linecap="round">
<path d="M1300,1055 C1320,900 1400,760 1395,620 C1390,500 1300,420 1250,320 C1215,240 1270,140 1370,125 C1450,115 1500,190 1480,260 C1465,315 1400,335 1360,300 C1335,275 1350,225 1395,228" fill="none" stroke-width="44"/>
<path d="M390,740 C400,690 450,670 500,672 C570,675 610,720 625,790 C640,860 670,930 720,985 C760,1020 800,1035 800,1060 L800,1100 C800,1110 790,1115 780,1115 L210,1115 C180,1115 175,1060 210,1050 L400,1040 C430,1035 440,1000 430,950 C420,880 385,800 390,740 Z"/>
<path d="M85,378 L215,355 L295,285 C320,278 335,290 320,312 L285,365 C300,430 320,520 352,568 C400,590 460,570 520,540 C570,515 620,510 680,520 C760,535 840,540 900,515 L950,505 C1000,560 1050,610 1090,650 L1060,645 C1000,660 960,700 935,760 C915,830 920,900 880,960 C860,990 830,990 800,975 C760,950 720,880 690,790 C670,720 620,660 560,640 C500,625 440,640 400,662 C370,690 330,690 305,665 C270,600 245,480 232,420 L200,396 L85,386 Z"/>
<path d="M960,770 C985,715 1060,700 1130,710 C1200,720 1240,770 1245,850 L1250,1000 C1290,1010 1335,1020 1340,1060 L1340,1100 L1115,1108 L1065,1062 C1045,1062 1012,1108 990,1108 L885,1105 C872,1062 900,1040 930,1030 C950,950 935,840 960,770 Z"/>
<path d="M1012,482 L1100,420 L1062,332 C1092,300 1100,250 1042,160 L1078,192 C1120,300 1200,400 1260,480 C1300,540 1312,620 1290,692 L1252,692 C1180,620 1090,550 1012,482 Z"/>
<path d="M715,215 C740,150 820,115 900,120 C980,125 1040,160 1060,240 C1080,330 1050,420 980,460 C900,500 800,490 742,472 L762,402 C740,350 720,300 715,215 Z"/>
<circle cx="872" cy="245" r="64" fill="#fff" stroke="none"/><circle cx="872" cy="245" r="36" fill="none" stroke="#000" stroke-width="5" stroke-opacity="0.0"/><circle cx="872" cy="242" r="15" fill="#777" stroke="none"/>
<path d="M625,300 C680,310 722,340 702,400 C690,432 650,452 610,440 C640,420 665,400 660,370 C655,340 640,320 625,300Z" stroke-width="22"/>
</g>
</svg>
</body></html>
